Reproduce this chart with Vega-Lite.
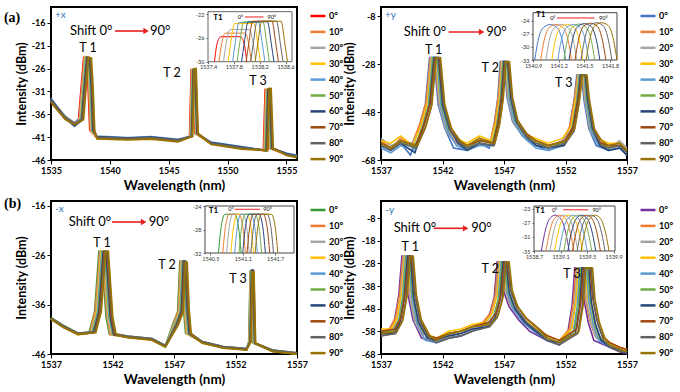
{
"$schema":"https://vega.github.io/schema/vega-lite/v6.json",
"padding":{"left":2,"top":6,"right":2,"bottom":0},
"bounds":"flush",
"columns":2,
"spacing":{"row":41,"column":84},
"resolve":{"scale":{"color":"independent","x":"independent","y":"independent"},"legend":{"color":"independent"}},
"config":{
 "view":{"stroke":"#000","strokeWidth":2},
 "font":"Lato",
 "axis":{"labelFont":"Lato","labelFontSize":9,"labelFontWeight":"bold","labelColor":"#000","titleFont":"Lato","titleFontSize":12.5,"titleFontWeight":"bold","titleColor":"#000","tickColor":"#000","tickSize":4,"domain":false,"grid":false,"labelFlush":false,"labelOverlap":false,"labelPadding":2,"titlePadding":3},
 "axisX":{"titleFontSize":13.5},
 "legend":{"padding":0,"symbolType":"stroke","symbolSize":225,"symbolStrokeWidth":2.5,"labelFont":"Lato","labelFontSize":9,"labelFontWeight":"bold","labelColor":"#000","rowPadding":1.9,"labelOffset":2},
 "text":{"font":"Lato","color":"#000"}
},
"datasets":{
"a":[
{"s":"0°","x":1535,"y":-32.8},{"s":"0°","x":1536.2,"y":-36.6},{"s":"0°","x":1537,"y":-38},{"s":"0°","x":1537.35,"y":-37},{"s":"0°","x":1537.62,"y":-28.5},{"s":"0°","x":1537.78,"y":-23.6},{"s":"0°","x":1538.02,"y":-23.8},{"s":"0°","x":1538.16,"y":-30},{"s":"0°","x":1538.3,"y":-39.5},{"s":"0°","x":1538.9,"y":-41},{"s":"0°","x":1541.5,"y":-41.3},{"s":"0°","x":1543.5,"y":-41.1},{"s":"0°","x":1545.8,"y":-41.7},{"s":"0°","x":1546.78,"y":-40.8},{"s":"0°","x":1546.92,"y":-26.2},{"s":"0°","x":1547.08,"y":-26.2},{"s":"0°","x":1547.25,"y":-40.2},{"s":"0°","x":1548.6,"y":-42.3},{"s":"0°","x":1551.2,"y":-43.3},{"s":"0°","x":1553.05,"y":-43.9},{"s":"0°","x":1553.2,"y":-30.6},{"s":"0°","x":1553.34,"y":-30.6},{"s":"0°","x":1553.52,"y":-43.4},{"s":"0°","x":1555,"y":-44.7},{"s":"0°","x":1555.9,"y":-45.2},
{"s":"10°","x":1535,"y":-33.1},{"s":"10°","x":1536.2,"y":-36.9},{"s":"10°","x":1537,"y":-38.3},{"s":"10°","x":1537.4,"y":-37},{"s":"10°","x":1537.67,"y":-28.5},{"s":"10°","x":1537.83,"y":-23.5},{"s":"10°","x":1538.07,"y":-23.7},{"s":"10°","x":1538.21,"y":-30},{"s":"10°","x":1538.35,"y":-39.5},{"s":"10°","x":1538.9,"y":-41.2},{"s":"10°","x":1541.5,"y":-41.4},{"s":"10°","x":1543.5,"y":-41.2},{"s":"10°","x":1545.8,"y":-41.8},{"s":"10°","x":1546.81,"y":-40.8},{"s":"10°","x":1546.95,"y":-26.3},{"s":"10°","x":1547.11,"y":-26.3},{"s":"10°","x":1547.28,"y":-40.2},{"s":"10°","x":1548.6,"y":-42.4},{"s":"10°","x":1551.2,"y":-43.4},{"s":"10°","x":1553.09,"y":-43.9},{"s":"10°","x":1553.24,"y":-30.7},{"s":"10°","x":1553.38,"y":-30.7},{"s":"10°","x":1553.56,"y":-43.4},{"s":"10°","x":1555,"y":-44.8},{"s":"10°","x":1555.9,"y":-45.2},
{"s":"20°","x":1535,"y":-32.6},{"s":"20°","x":1536.2,"y":-36.4},{"s":"20°","x":1537,"y":-37.8},{"s":"20°","x":1537.44,"y":-36.8},{"s":"20°","x":1537.71,"y":-28.5},{"s":"20°","x":1537.87,"y":-23.6},{"s":"20°","x":1538.11,"y":-23.8},{"s":"20°","x":1538.25,"y":-30},{"s":"20°","x":1538.39,"y":-39.5},{"s":"20°","x":1538.9,"y":-40.9},{"s":"20°","x":1541.5,"y":-41.2},{"s":"20°","x":1543.5,"y":-41},{"s":"20°","x":1545.8,"y":-41.6},{"s":"20°","x":1546.84,"y":-40.8},{"s":"20°","x":1546.98,"y":-26.4},{"s":"20°","x":1547.14,"y":-26.4},{"s":"20°","x":1547.31,"y":-40.2},{"s":"20°","x":1548.6,"y":-42.2},{"s":"20°","x":1551.2,"y":-43.2},{"s":"20°","x":1553.13,"y":-43.9},{"s":"20°","x":1553.28,"y":-30.8},{"s":"20°","x":1553.42,"y":-30.8},{"s":"20°","x":1553.6,"y":-43.4},{"s":"20°","x":1555,"y":-44.6},{"s":"20°","x":1555.9,"y":-45.1},
{"s":"30°","x":1535,"y":-33.2},{"s":"30°","x":1536.2,"y":-36.8},{"s":"30°","x":1537,"y":-38.4},{"s":"30°","x":1537.49,"y":-37.2},{"s":"30°","x":1537.76,"y":-28.5},{"s":"30°","x":1537.92,"y":-23.4},{"s":"30°","x":1538.16,"y":-23.6},{"s":"30°","x":1538.3,"y":-30},{"s":"30°","x":1538.44,"y":-39.5},{"s":"30°","x":1538.9,"y":-41.1},{"s":"30°","x":1541.5,"y":-41.4},{"s":"30°","x":1543.5,"y":-41.2},{"s":"30°","x":1545.8,"y":-41.8},{"s":"30°","x":1546.86,"y":-40.8},{"s":"30°","x":1547,"y":-26.2},{"s":"30°","x":1547.16,"y":-26.2},{"s":"30°","x":1547.33,"y":-40.2},{"s":"30°","x":1548.6,"y":-42.4},{"s":"30°","x":1551.2,"y":-43.4},{"s":"30°","x":1553.17,"y":-43.9},{"s":"30°","x":1553.32,"y":-30.5},{"s":"30°","x":1553.46,"y":-30.5},{"s":"30°","x":1553.64,"y":-43.4},{"s":"30°","x":1555,"y":-44.8},{"s":"30°","x":1555.9,"y":-45.3},
{"s":"40°","x":1535,"y":-32.5},{"s":"40°","x":1536.2,"y":-36.9},{"s":"40°","x":1537,"y":-38.6},{"s":"40°","x":1537.53,"y":-37.4},{"s":"40°","x":1537.8,"y":-28.5},{"s":"40°","x":1537.96,"y":-23.6},{"s":"40°","x":1538.2,"y":-23.8},{"s":"40°","x":1538.34,"y":-30},{"s":"40°","x":1538.48,"y":-39.5},{"s":"40°","x":1538.9,"y":-40.8},{"s":"40°","x":1541.5,"y":-41.1},{"s":"40°","x":1543.5,"y":-40.9},{"s":"40°","x":1545.8,"y":-41.5},{"s":"40°","x":1546.89,"y":-40.8},{"s":"40°","x":1547.03,"y":-26.3},{"s":"40°","x":1547.19,"y":-26.3},{"s":"40°","x":1547.36,"y":-40.2},{"s":"40°","x":1548.6,"y":-42.1},{"s":"40°","x":1551.2,"y":-43.1},{"s":"40°","x":1553.21,"y":-43.9},{"s":"40°","x":1553.36,"y":-30.9},{"s":"40°","x":1553.5,"y":-30.9},{"s":"40°","x":1553.68,"y":-43.4},{"s":"40°","x":1555,"y":-44.5},{"s":"40°","x":1555.9,"y":-45},
{"s":"50°","x":1535,"y":-33},{"s":"50°","x":1536.2,"y":-36.5},{"s":"50°","x":1537,"y":-38.1},{"s":"50°","x":1537.58,"y":-37.1},{"s":"50°","x":1537.85,"y":-28.5},{"s":"50°","x":1538.01,"y":-23.5},{"s":"50°","x":1538.25,"y":-23.7},{"s":"50°","x":1538.39,"y":-30},{"s":"50°","x":1538.53,"y":-39.5},{"s":"50°","x":1538.9,"y":-41},{"s":"50°","x":1541.5,"y":-41.3},{"s":"50°","x":1543.5,"y":-41.1},{"s":"50°","x":1545.8,"y":-41.7},{"s":"50°","x":1546.92,"y":-40.8},{"s":"50°","x":1547.06,"y":-26.2},{"s":"50°","x":1547.22,"y":-26.2},{"s":"50°","x":1547.39,"y":-40.2},{"s":"50°","x":1548.6,"y":-42.3},{"s":"50°","x":1551.2,"y":-43.3},{"s":"50°","x":1553.25,"y":-43.9},{"s":"50°","x":1553.4,"y":-30.6},{"s":"50°","x":1553.54,"y":-30.6},{"s":"50°","x":1553.72,"y":-43.4},{"s":"50°","x":1555,"y":-44.7},{"s":"50°","x":1555.9,"y":-45.2},
{"s":"60°","x":1535,"y":-32.7},{"s":"60°","x":1536.2,"y":-36.7},{"s":"60°","x":1537,"y":-38.5},{"s":"60°","x":1537.62,"y":-37.3},{"s":"60°","x":1537.89,"y":-28.5},{"s":"60°","x":1538.05,"y":-23.6},{"s":"60°","x":1538.29,"y":-23.8},{"s":"60°","x":1538.43,"y":-30},{"s":"60°","x":1538.57,"y":-39.5},{"s":"60°","x":1538.9,"y":-40.9},{"s":"60°","x":1541.5,"y":-41.2},{"s":"60°","x":1543.5,"y":-41},{"s":"60°","x":1545.8,"y":-41.6},{"s":"60°","x":1546.95,"y":-40.8},{"s":"60°","x":1547.09,"y":-26.3},{"s":"60°","x":1547.25,"y":-26.3},{"s":"60°","x":1547.42,"y":-40.2},{"s":"60°","x":1548.6,"y":-42.2},{"s":"60°","x":1551.2,"y":-43.2},{"s":"60°","x":1553.29,"y":-43.9},{"s":"60°","x":1553.44,"y":-30.6},{"s":"60°","x":1553.58,"y":-30.6},{"s":"60°","x":1553.76,"y":-43.4},{"s":"60°","x":1555,"y":-44.6},{"s":"60°","x":1555.9,"y":-45.1},
{"s":"70°","x":1535,"y":-33.3},{"s":"70°","x":1536.2,"y":-37},{"s":"70°","x":1537,"y":-38.2},{"s":"70°","x":1537.67,"y":-37},{"s":"70°","x":1537.94,"y":-28.5},{"s":"70°","x":1538.1,"y":-23.5},{"s":"70°","x":1538.34,"y":-23.7},{"s":"70°","x":1538.48,"y":-30},{"s":"70°","x":1538.62,"y":-39.5},{"s":"70°","x":1538.9,"y":-41.1},{"s":"70°","x":1541.5,"y":-41.4},{"s":"70°","x":1543.5,"y":-41.2},{"s":"70°","x":1545.8,"y":-41.8},{"s":"70°","x":1546.98,"y":-40.8},{"s":"70°","x":1547.12,"y":-26.2},{"s":"70°","x":1547.28,"y":-26.2},{"s":"70°","x":1547.45,"y":-40.2},{"s":"70°","x":1548.6,"y":-42.4},{"s":"70°","x":1551.2,"y":-43.4},{"s":"70°","x":1553.33,"y":-43.9},{"s":"70°","x":1553.48,"y":-30.4},{"s":"70°","x":1553.62,"y":-30.4},{"s":"70°","x":1553.8,"y":-43.4},{"s":"70°","x":1555,"y":-44.8},{"s":"70°","x":1555.9,"y":-45.3},
{"s":"80°","x":1535,"y":-32.9},{"s":"80°","x":1536.2,"y":-36.6},{"s":"80°","x":1537,"y":-38},{"s":"80°","x":1537.71,"y":-36.9},{"s":"80°","x":1537.98,"y":-28.5},{"s":"80°","x":1538.14,"y":-23.6},{"s":"80°","x":1538.38,"y":-23.8},{"s":"80°","x":1538.52,"y":-30},{"s":"80°","x":1538.66,"y":-39.5},{"s":"80°","x":1538.9,"y":-41},{"s":"80°","x":1541.5,"y":-41.3},{"s":"80°","x":1543.5,"y":-41.1},{"s":"80°","x":1545.8,"y":-41.7},{"s":"80°","x":1547,"y":-40.8},{"s":"80°","x":1547.14,"y":-26.1},{"s":"80°","x":1547.3,"y":-26.1},{"s":"80°","x":1547.47,"y":-40.2},{"s":"80°","x":1548.6,"y":-42.3},{"s":"80°","x":1551.2,"y":-43.3},{"s":"80°","x":1553.37,"y":-43.9},{"s":"80°","x":1553.52,"y":-30.5},{"s":"80°","x":1553.66,"y":-30.5},{"s":"80°","x":1553.84,"y":-43.4},{"s":"80°","x":1555,"y":-44.7},{"s":"80°","x":1555.9,"y":-45.2},
{"s":"90°","x":1535,"y":-33.4},{"s":"90°","x":1536.2,"y":-37.1},{"s":"90°","x":1537,"y":-38.3},{"s":"90°","x":1537.76,"y":-37.2},{"s":"90°","x":1538.03,"y":-28.5},{"s":"90°","x":1538.19,"y":-23.5},{"s":"90°","x":1538.43,"y":-23.7},{"s":"90°","x":1538.57,"y":-30},{"s":"90°","x":1538.71,"y":-39.5},{"s":"90°","x":1538.9,"y":-41.4},{"s":"90°","x":1541.5,"y":-41.6},{"s":"90°","x":1543.5,"y":-41.4},{"s":"90°","x":1545.8,"y":-42},{"s":"90°","x":1547.03,"y":-40.8},{"s":"90°","x":1547.17,"y":-26},{"s":"90°","x":1547.33,"y":-26},{"s":"90°","x":1547.5,"y":-40.2},{"s":"90°","x":1548.6,"y":-42.6},{"s":"90°","x":1551.2,"y":-43.6},{"s":"90°","x":1553.41,"y":-43.9},{"s":"90°","x":1553.56,"y":-30.4},{"s":"90°","x":1553.7,"y":-30.4},{"s":"90°","x":1553.88,"y":-43.4},{"s":"90°","x":1555,"y":-45},{"s":"90°","x":1555.9,"y":-45.5}
],
"ai":[
{"s":"0°","x":1537.5,"y":-30},{"s":"0°","x":1537.54,"y":-27},{"s":"0°","x":1537.6,"y":-25.8},{"s":"0°","x":1537.9,"y":-25.8},{"s":"0°","x":1537.96,"y":-27},{"s":"0°","x":1538,"y":-30},
{"s":"10°","x":1537.57,"y":-30},{"s":"10°","x":1537.61,"y":-27},{"s":"10°","x":1537.67,"y":-25.2},{"s":"10°","x":1537.97,"y":-25.2},{"s":"10°","x":1538.03,"y":-27},{"s":"10°","x":1538.07,"y":-30},
{"s":"20°","x":1537.64,"y":-30},{"s":"20°","x":1537.68,"y":-27},{"s":"20°","x":1537.74,"y":-24.6},{"s":"20°","x":1538.04,"y":-24.6},{"s":"20°","x":1538.1,"y":-27},{"s":"20°","x":1538.14,"y":-30},
{"s":"30°","x":1537.71,"y":-30},{"s":"30°","x":1537.75,"y":-27},{"s":"30°","x":1537.81,"y":-23.6},{"s":"30°","x":1538.11,"y":-23.6},{"s":"30°","x":1538.17,"y":-27},{"s":"30°","x":1538.21,"y":-30},
{"s":"40°","x":1537.78,"y":-30},{"s":"40°","x":1537.82,"y":-27},{"s":"40°","x":1537.88,"y":-23.4},{"s":"40°","x":1538.18,"y":-23.4},{"s":"40°","x":1538.24,"y":-27},{"s":"40°","x":1538.28,"y":-30},
{"s":"50°","x":1537.85,"y":-30},{"s":"50°","x":1537.89,"y":-27},{"s":"50°","x":1537.95,"y":-23.3},{"s":"50°","x":1538.25,"y":-23.3},{"s":"50°","x":1538.31,"y":-27},{"s":"50°","x":1538.35,"y":-30},
{"s":"60°","x":1537.92,"y":-30},{"s":"60°","x":1537.96,"y":-27},{"s":"60°","x":1538.02,"y":-23.3},{"s":"60°","x":1538.32,"y":-23.3},{"s":"60°","x":1538.38,"y":-27},{"s":"60°","x":1538.42,"y":-30},
{"s":"70°","x":1537.99,"y":-30},{"s":"70°","x":1538.03,"y":-27},{"s":"70°","x":1538.09,"y":-23.2},{"s":"70°","x":1538.39,"y":-23.2},{"s":"70°","x":1538.45,"y":-27},{"s":"70°","x":1538.49,"y":-30},
{"s":"80°","x":1538.06,"y":-30},{"s":"80°","x":1538.1,"y":-27},{"s":"80°","x":1538.16,"y":-23.2},{"s":"80°","x":1538.46,"y":-23.2},{"s":"80°","x":1538.52,"y":-27},{"s":"80°","x":1538.56,"y":-30},
{"s":"90°","x":1538.13,"y":-30},{"s":"90°","x":1538.17,"y":-27},{"s":"90°","x":1538.23,"y":-23.2},{"s":"90°","x":1538.53,"y":-23.2},{"s":"90°","x":1538.59,"y":-27},{"s":"90°","x":1538.63,"y":-30}
],
"b":[
{"s":"0°","x":1537,"y":-62},{"s":"0°","x":1537.8,"y":-64},{"s":"0°","x":1538.6,"y":-61},{"s":"0°","x":1539.4,"y":-66},{"s":"0°","x":1540.1,"y":-54},{"s":"0°","x":1540.6,"y":-45},{"s":"0°","x":1540.95,"y":-25.3},{"s":"0°","x":1541.3,"y":-25.3},{"s":"0°","x":1541.65,"y":-45},{"s":"0°","x":1542.2,"y":-55},{"s":"0°","x":1542.9,"y":-63},{"s":"0°","x":1544,"y":-64},{"s":"0°","x":1545,"y":-61},{"s":"0°","x":1545.8,"y":-63},{"s":"0°","x":1546.2,"y":-53},{"s":"0°","x":1546.5,"y":-42},{"s":"0°","x":1546.7,"y":-27},{"s":"0°","x":1547,"y":-27},{"s":"0°","x":1547.25,"y":-42},{"s":"0°","x":1547.7,"y":-52},{"s":"0°","x":1548.5,"y":-58},{"s":"0°","x":1549.6,"y":-62},{"s":"0°","x":1550.6,"y":-64},{"s":"0°","x":1551.6,"y":-62},{"s":"0°","x":1552.3,"y":-55},{"s":"0°","x":1552.7,"y":-43},{"s":"0°","x":1552.92,"y":-32.6},{"s":"0°","x":1553.3,"y":-32.6},{"s":"0°","x":1553.5,"y":-43},{"s":"0°","x":1553.9,"y":-55},{"s":"0°","x":1554.5,"y":-62},{"s":"0°","x":1555.5,"y":-64},{"s":"0°","x":1556.4,"y":-63},{"s":"0°","x":1557,"y":-66},
{"s":"10°","x":1537,"y":-60},{"s":"10°","x":1537.8,"y":-63},{"s":"10°","x":1538.6,"y":-59},{"s":"10°","x":1539.46,"y":-62},{"s":"10°","x":1540.16,"y":-53},{"s":"10°","x":1540.66,"y":-44},{"s":"10°","x":1541.01,"y":-25.4},{"s":"10°","x":1541.36,"y":-25.4},{"s":"10°","x":1541.71,"y":-44},{"s":"10°","x":1542.26,"y":-54},{"s":"10°","x":1542.96,"y":-60},{"s":"10°","x":1544,"y":-62},{"s":"10°","x":1545,"y":-59},{"s":"10°","x":1545.85,"y":-61},{"s":"10°","x":1546.25,"y":-52},{"s":"10°","x":1546.55,"y":-41},{"s":"10°","x":1546.75,"y":-27.1},{"s":"10°","x":1547.05,"y":-27.1},{"s":"10°","x":1547.3,"y":-41},{"s":"10°","x":1547.75,"y":-51},{"s":"10°","x":1548.55,"y":-57},{"s":"10°","x":1549.6,"y":-60},{"s":"10°","x":1550.6,"y":-62},{"s":"10°","x":1551.65,"y":-61},{"s":"10°","x":1552.35,"y":-54},{"s":"10°","x":1552.75,"y":-42},{"s":"10°","x":1552.97,"y":-32.7},{"s":"10°","x":1553.35,"y":-32.7},{"s":"10°","x":1553.55,"y":-42},{"s":"10°","x":1553.95,"y":-54},{"s":"10°","x":1554.55,"y":-60},{"s":"10°","x":1555.5,"y":-62},{"s":"10°","x":1556.4,"y":-61},{"s":"10°","x":1557,"y":-64},
{"s":"20°","x":1537,"y":-59},{"s":"20°","x":1537.8,"y":-62},{"s":"20°","x":1538.6,"y":-60},{"s":"20°","x":1539.52,"y":-61},{"s":"20°","x":1540.22,"y":-55},{"s":"20°","x":1540.72,"y":-46},{"s":"20°","x":1541.07,"y":-25.3},{"s":"20°","x":1541.42,"y":-25.3},{"s":"20°","x":1541.77,"y":-46},{"s":"20°","x":1542.32,"y":-56},{"s":"20°","x":1543.02,"y":-61},{"s":"20°","x":1544,"y":-63},{"s":"20°","x":1545,"y":-60},{"s":"20°","x":1545.9,"y":-60},{"s":"20°","x":1546.3,"y":-54},{"s":"20°","x":1546.6,"y":-43},{"s":"20°","x":1546.8,"y":-27},{"s":"20°","x":1547.1,"y":-27},{"s":"20°","x":1547.35,"y":-43},{"s":"20°","x":1547.8,"y":-53},{"s":"20°","x":1548.6,"y":-58},{"s":"20°","x":1549.6,"y":-61},{"s":"20°","x":1550.6,"y":-63},{"s":"20°","x":1551.7,"y":-60},{"s":"20°","x":1552.4,"y":-56},{"s":"20°","x":1552.8,"y":-44},{"s":"20°","x":1553.02,"y":-32.6},{"s":"20°","x":1553.4,"y":-32.6},{"s":"20°","x":1553.6,"y":-44},{"s":"20°","x":1554,"y":-56},{"s":"20°","x":1554.6,"y":-61},{"s":"20°","x":1555.5,"y":-63},{"s":"20°","x":1556.4,"y":-60},{"s":"20°","x":1557,"y":-63},
{"s":"30°","x":1537,"y":-60},{"s":"30°","x":1537.8,"y":-61},{"s":"30°","x":1538.6,"y":-58},{"s":"30°","x":1539.58,"y":-62},{"s":"30°","x":1540.28,"y":-53},{"s":"30°","x":1540.78,"y":-44},{"s":"30°","x":1541.13,"y":-25.4},{"s":"30°","x":1541.48,"y":-25.4},{"s":"30°","x":1541.83,"y":-44},{"s":"30°","x":1542.38,"y":-54},{"s":"30°","x":1543.08,"y":-59},{"s":"30°","x":1544,"y":-61},{"s":"30°","x":1545,"y":-58},{"s":"30°","x":1545.95,"y":-60},{"s":"30°","x":1546.35,"y":-52},{"s":"30°","x":1546.65,"y":-41},{"s":"30°","x":1546.85,"y":-27.1},{"s":"30°","x":1547.15,"y":-27.1},{"s":"30°","x":1547.4,"y":-41},{"s":"30°","x":1547.85,"y":-51},{"s":"30°","x":1548.65,"y":-57},{"s":"30°","x":1549.6,"y":-59},{"s":"30°","x":1550.6,"y":-61},{"s":"30°","x":1551.75,"y":-59},{"s":"30°","x":1552.45,"y":-54},{"s":"30°","x":1552.85,"y":-42},{"s":"30°","x":1553.07,"y":-32.7},{"s":"30°","x":1553.45,"y":-32.7},{"s":"30°","x":1553.65,"y":-42},{"s":"30°","x":1554.05,"y":-54},{"s":"30°","x":1554.65,"y":-59},{"s":"30°","x":1555.5,"y":-61},{"s":"30°","x":1556.4,"y":-61},{"s":"30°","x":1557,"y":-64},
{"s":"40°","x":1537,"y":-63},{"s":"40°","x":1537.8,"y":-65},{"s":"40°","x":1538.6,"y":-62},{"s":"40°","x":1539.64,"y":-64},{"s":"40°","x":1540.34,"y":-55},{"s":"40°","x":1540.84,"y":-46},{"s":"40°","x":1541.19,"y":-25.3},{"s":"40°","x":1541.54,"y":-25.3},{"s":"40°","x":1541.89,"y":-46},{"s":"40°","x":1542.44,"y":-56},{"s":"40°","x":1543.14,"y":-62},{"s":"40°","x":1544,"y":-64},{"s":"40°","x":1545,"y":-62},{"s":"40°","x":1546,"y":-62},{"s":"40°","x":1546.4,"y":-54},{"s":"40°","x":1546.7,"y":-43},{"s":"40°","x":1546.9,"y":-27},{"s":"40°","x":1547.2,"y":-27},{"s":"40°","x":1547.45,"y":-43},{"s":"40°","x":1547.9,"y":-53},{"s":"40°","x":1548.7,"y":-59},{"s":"40°","x":1549.6,"y":-63},{"s":"40°","x":1550.6,"y":-64},{"s":"40°","x":1551.8,"y":-62},{"s":"40°","x":1552.5,"y":-56},{"s":"40°","x":1552.9,"y":-44},{"s":"40°","x":1553.12,"y":-32.6},{"s":"40°","x":1553.5,"y":-32.6},{"s":"40°","x":1553.7,"y":-44},{"s":"40°","x":1554.1,"y":-56},{"s":"40°","x":1554.7,"y":-62},{"s":"40°","x":1555.5,"y":-64},{"s":"40°","x":1556.4,"y":-63},{"s":"40°","x":1557,"y":-66},
{"s":"50°","x":1537,"y":-61},{"s":"50°","x":1537.8,"y":-63},{"s":"50°","x":1538.6,"y":-60},{"s":"50°","x":1539.7,"y":-63},{"s":"50°","x":1540.4,"y":-54},{"s":"50°","x":1540.9,"y":-45},{"s":"50°","x":1541.25,"y":-25.4},{"s":"50°","x":1541.6,"y":-25.4},{"s":"50°","x":1541.95,"y":-45},{"s":"50°","x":1542.5,"y":-55},{"s":"50°","x":1543.2,"y":-60},{"s":"50°","x":1544,"y":-63},{"s":"50°","x":1545,"y":-60},{"s":"50°","x":1546.05,"y":-61},{"s":"50°","x":1546.45,"y":-53},{"s":"50°","x":1546.75,"y":-42},{"s":"50°","x":1546.95,"y":-27.1},{"s":"50°","x":1547.25,"y":-27.1},{"s":"50°","x":1547.5,"y":-42},{"s":"50°","x":1547.95,"y":-52},{"s":"50°","x":1548.75,"y":-58},{"s":"50°","x":1549.6,"y":-61},{"s":"50°","x":1550.6,"y":-62},{"s":"50°","x":1551.85,"y":-61},{"s":"50°","x":1552.55,"y":-55},{"s":"50°","x":1552.95,"y":-43},{"s":"50°","x":1553.17,"y":-32.7},{"s":"50°","x":1553.55,"y":-32.7},{"s":"50°","x":1553.75,"y":-43},{"s":"50°","x":1554.15,"y":-55},{"s":"50°","x":1554.75,"y":-61},{"s":"50°","x":1555.5,"y":-63},{"s":"50°","x":1556.4,"y":-62},{"s":"50°","x":1557,"y":-65},
{"s":"60°","x":1537,"y":-62},{"s":"60°","x":1537.8,"y":-64},{"s":"60°","x":1538.6,"y":-61},{"s":"60°","x":1539.76,"y":-65},{"s":"60°","x":1540.46,"y":-54},{"s":"60°","x":1540.96,"y":-45},{"s":"60°","x":1541.31,"y":-25.3},{"s":"60°","x":1541.66,"y":-25.3},{"s":"60°","x":1542.01,"y":-45},{"s":"60°","x":1542.56,"y":-55},{"s":"60°","x":1543.26,"y":-61},{"s":"60°","x":1544,"y":-64},{"s":"60°","x":1545,"y":-61},{"s":"60°","x":1546.1,"y":-62},{"s":"60°","x":1546.5,"y":-53},{"s":"60°","x":1546.8,"y":-42},{"s":"60°","x":1547,"y":-27},{"s":"60°","x":1547.3,"y":-27},{"s":"60°","x":1547.55,"y":-42},{"s":"60°","x":1548,"y":-52},{"s":"60°","x":1548.8,"y":-58},{"s":"60°","x":1549.6,"y":-62},{"s":"60°","x":1550.6,"y":-63},{"s":"60°","x":1551.9,"y":-62},{"s":"60°","x":1552.6,"y":-55},{"s":"60°","x":1553,"y":-43},{"s":"60°","x":1553.22,"y":-32.6},{"s":"60°","x":1553.6,"y":-32.6},{"s":"60°","x":1553.8,"y":-43},{"s":"60°","x":1554.2,"y":-55},{"s":"60°","x":1554.8,"y":-62},{"s":"60°","x":1555.5,"y":-64},{"s":"60°","x":1556.4,"y":-63},{"s":"60°","x":1557,"y":-66},
{"s":"70°","x":1537,"y":-61},{"s":"70°","x":1537.8,"y":-63},{"s":"70°","x":1538.6,"y":-60},{"s":"70°","x":1539.82,"y":-62},{"s":"70°","x":1540.52,"y":-53},{"s":"70°","x":1541.02,"y":-44},{"s":"70°","x":1541.37,"y":-25.4},{"s":"70°","x":1541.72,"y":-25.4},{"s":"70°","x":1542.07,"y":-44},{"s":"70°","x":1542.62,"y":-54},{"s":"70°","x":1543.32,"y":-60},{"s":"70°","x":1544,"y":-62},{"s":"70°","x":1545,"y":-60},{"s":"70°","x":1546.15,"y":-61},{"s":"70°","x":1546.55,"y":-52},{"s":"70°","x":1546.85,"y":-41},{"s":"70°","x":1547.05,"y":-27.1},{"s":"70°","x":1547.35,"y":-27.1},{"s":"70°","x":1547.6,"y":-41},{"s":"70°","x":1548.05,"y":-51},{"s":"70°","x":1548.85,"y":-57},{"s":"70°","x":1549.6,"y":-60},{"s":"70°","x":1550.6,"y":-62},{"s":"70°","x":1551.95,"y":-60},{"s":"70°","x":1552.65,"y":-54},{"s":"70°","x":1553.05,"y":-42},{"s":"70°","x":1553.27,"y":-32.7},{"s":"70°","x":1553.65,"y":-32.7},{"s":"70°","x":1553.85,"y":-42},{"s":"70°","x":1554.25,"y":-54},{"s":"70°","x":1554.85,"y":-61},{"s":"70°","x":1555.5,"y":-62},{"s":"70°","x":1556.4,"y":-62},{"s":"70°","x":1557,"y":-64},
{"s":"80°","x":1537,"y":-62},{"s":"80°","x":1537.8,"y":-64},{"s":"80°","x":1538.6,"y":-61},{"s":"80°","x":1539.88,"y":-63},{"s":"80°","x":1540.58,"y":-55},{"s":"80°","x":1541.08,"y":-46},{"s":"80°","x":1541.43,"y":-25.3},{"s":"80°","x":1541.78,"y":-25.3},{"s":"80°","x":1542.13,"y":-46},{"s":"80°","x":1542.68,"y":-56},{"s":"80°","x":1543.38,"y":-61},{"s":"80°","x":1544,"y":-63},{"s":"80°","x":1545,"y":-61},{"s":"80°","x":1546.2,"y":-62},{"s":"80°","x":1546.6,"y":-54},{"s":"80°","x":1546.9,"y":-43},{"s":"80°","x":1547.1,"y":-27},{"s":"80°","x":1547.4,"y":-27},{"s":"80°","x":1547.65,"y":-43},{"s":"80°","x":1548.1,"y":-53},{"s":"80°","x":1548.9,"y":-59},{"s":"80°","x":1549.6,"y":-61},{"s":"80°","x":1550.6,"y":-63},{"s":"80°","x":1552,"y":-61},{"s":"80°","x":1552.7,"y":-56},{"s":"80°","x":1553.1,"y":-44},{"s":"80°","x":1553.32,"y":-32.6},{"s":"80°","x":1553.7,"y":-32.6},{"s":"80°","x":1553.9,"y":-44},{"s":"80°","x":1554.3,"y":-56},{"s":"80°","x":1554.9,"y":-62},{"s":"80°","x":1555.5,"y":-63},{"s":"80°","x":1556.4,"y":-62},{"s":"80°","x":1557,"y":-65},
{"s":"90°","x":1537,"y":-61},{"s":"90°","x":1537.8,"y":-63},{"s":"90°","x":1538.6,"y":-60},{"s":"90°","x":1539.94,"y":-62},{"s":"90°","x":1540.64,"y":-54},{"s":"90°","x":1541.14,"y":-45},{"s":"90°","x":1541.49,"y":-25.4},{"s":"90°","x":1541.84,"y":-25.4},{"s":"90°","x":1542.19,"y":-45},{"s":"90°","x":1542.74,"y":-55},{"s":"90°","x":1543.44,"y":-60},{"s":"90°","x":1544,"y":-62},{"s":"90°","x":1545,"y":-59},{"s":"90°","x":1546.25,"y":-61},{"s":"90°","x":1546.65,"y":-53},{"s":"90°","x":1546.95,"y":-42},{"s":"90°","x":1547.15,"y":-27.1},{"s":"90°","x":1547.45,"y":-27.1},{"s":"90°","x":1547.7,"y":-42},{"s":"90°","x":1548.15,"y":-52},{"s":"90°","x":1548.95,"y":-58},{"s":"90°","x":1549.6,"y":-60},{"s":"90°","x":1550.6,"y":-62},{"s":"90°","x":1552.05,"y":-60},{"s":"90°","x":1552.75,"y":-55},{"s":"90°","x":1553.15,"y":-43},{"s":"90°","x":1553.37,"y":-32.7},{"s":"90°","x":1553.75,"y":-32.7},{"s":"90°","x":1553.95,"y":-43},{"s":"90°","x":1554.35,"y":-55},{"s":"90°","x":1554.95,"y":-60},{"s":"90°","x":1555.5,"y":-62},{"s":"90°","x":1556.4,"y":-61},{"s":"90°","x":1557,"y":-64}
],
"bi":[
{"s":"0°","x":1540.92,"y":-33},{"s":"0°","x":1540.96,"y":-28.5},{"s":"0°","x":1541.02,"y":-25.6},{"s":"0°","x":1541.1,"y":-24.9},{"s":"0°","x":1541.18,"y":-25.6},{"s":"0°","x":1541.24,"y":-28.5},{"s":"0°","x":1541.28,"y":-33},
{"s":"10°","x":1540.99,"y":-33},{"s":"10°","x":1541.03,"y":-28.5},{"s":"10°","x":1541.09,"y":-25.6},{"s":"10°","x":1541.17,"y":-24.9},{"s":"10°","x":1541.25,"y":-25.6},{"s":"10°","x":1541.31,"y":-28.5},{"s":"10°","x":1541.35,"y":-33},
{"s":"20°","x":1541.05,"y":-33},{"s":"20°","x":1541.09,"y":-28.5},{"s":"20°","x":1541.15,"y":-25.6},{"s":"20°","x":1541.23,"y":-24.9},{"s":"20°","x":1541.31,"y":-25.6},{"s":"20°","x":1541.37,"y":-28.5},{"s":"20°","x":1541.41,"y":-33},
{"s":"30°","x":1541.12,"y":-33},{"s":"30°","x":1541.16,"y":-28.5},{"s":"30°","x":1541.22,"y":-25.6},{"s":"30°","x":1541.3,"y":-24.9},{"s":"30°","x":1541.38,"y":-25.6},{"s":"30°","x":1541.44,"y":-28.5},{"s":"30°","x":1541.48,"y":-33},
{"s":"40°","x":1541.19,"y":-33},{"s":"40°","x":1541.23,"y":-28.5},{"s":"40°","x":1541.29,"y":-25.6},{"s":"40°","x":1541.37,"y":-24.9},{"s":"40°","x":1541.45,"y":-25.6},{"s":"40°","x":1541.51,"y":-28.5},{"s":"40°","x":1541.55,"y":-33},
{"s":"50°","x":1541.26,"y":-33},{"s":"50°","x":1541.3,"y":-28.5},{"s":"50°","x":1541.36,"y":-25.5},{"s":"50°","x":1541.44,"y":-24.8},{"s":"50°","x":1541.52,"y":-25.5},{"s":"50°","x":1541.58,"y":-28.5},{"s":"50°","x":1541.62,"y":-33},
{"s":"60°","x":1541.32,"y":-33},{"s":"60°","x":1541.36,"y":-28.5},{"s":"60°","x":1541.42,"y":-25.4},{"s":"60°","x":1541.5,"y":-24.7},{"s":"60°","x":1541.58,"y":-25.4},{"s":"60°","x":1541.64,"y":-28.5},{"s":"60°","x":1541.68,"y":-33},
{"s":"70°","x":1541.39,"y":-33},{"s":"70°","x":1541.43,"y":-28.5},{"s":"70°","x":1541.49,"y":-25.3},{"s":"70°","x":1541.57,"y":-24.6},{"s":"70°","x":1541.65,"y":-25.3},{"s":"70°","x":1541.71,"y":-28.5},{"s":"70°","x":1541.75,"y":-33},
{"s":"80°","x":1541.46,"y":-33},{"s":"80°","x":1541.5,"y":-28.5},{"s":"80°","x":1541.56,"y":-25.2},{"s":"80°","x":1541.64,"y":-24.5},{"s":"80°","x":1541.72,"y":-25.2},{"s":"80°","x":1541.78,"y":-28.5},{"s":"80°","x":1541.82,"y":-33},
{"s":"90°","x":1541.52,"y":-33},{"s":"90°","x":1541.56,"y":-28.5},{"s":"90°","x":1541.62,"y":-25.2},{"s":"90°","x":1541.7,"y":-24.5},{"s":"90°","x":1541.78,"y":-25.2},{"s":"90°","x":1541.84,"y":-28.5},{"s":"90°","x":1541.88,"y":-33}
],
"c":[
{"s":"0°","x":1537,"y":-38.8},{"s":"0°","x":1538,"y":-40.4},{"s":"0°","x":1539.2,"y":-41.9},{"s":"0°","x":1540.1,"y":-41.6},{"s":"0°","x":1540.55,"y":-37.5},{"s":"0°","x":1540.9,"y":-25.2},{"s":"0°","x":1541.12,"y":-25.2},{"s":"0°","x":1541.48,"y":-38.5},{"s":"0°","x":1541.75,"y":-42},{"s":"0°","x":1543.2,"y":-42.5},{"s":"0°","x":1545.2,"y":-43},{"s":"0°","x":1546.3,"y":-44.4},{"s":"0°","x":1546.9,"y":-40},{"s":"0°","x":1547.3,"y":-37.5},{"s":"0°","x":1547.48,"y":-27.3},{"s":"0°","x":1547.62,"y":-27.3},{"s":"0°","x":1547.78,"y":-37},{"s":"0°","x":1547.95,"y":-41.8},{"s":"0°","x":1549.3,"y":-43.6},{"s":"0°","x":1551,"y":-44.6},{"s":"0°","x":1552.9,"y":-45},{"s":"0°","x":1553.08,"y":-43.5},{"s":"0°","x":1553.2,"y":-29.2},{"s":"0°","x":1553.32,"y":-29.2},{"s":"0°","x":1553.45,"y":-43.8},{"s":"0°","x":1555,"y":-45.3},{"s":"0°","x":1557,"y":-45.9},
{"s":"10°","x":1537,"y":-38.9},{"s":"10°","x":1538,"y":-40.5},{"s":"10°","x":1539.2,"y":-42},{"s":"10°","x":1540.16,"y":-41.6},{"s":"10°","x":1540.61,"y":-37.2},{"s":"10°","x":1540.96,"y":-25.3},{"s":"10°","x":1541.18,"y":-25.3},{"s":"10°","x":1541.54,"y":-38.2},{"s":"10°","x":1541.81,"y":-42.1},{"s":"10°","x":1543.2,"y":-42.6},{"s":"10°","x":1545.2,"y":-43.1},{"s":"10°","x":1546.3,"y":-44.5},{"s":"10°","x":1546.95,"y":-40},{"s":"10°","x":1547.35,"y":-37.3},{"s":"10°","x":1547.53,"y":-27.2},{"s":"10°","x":1547.67,"y":-27.2},{"s":"10°","x":1547.83,"y":-37},{"s":"10°","x":1548,"y":-41.8},{"s":"10°","x":1549.3,"y":-43.7},{"s":"10°","x":1551,"y":-44.7},{"s":"10°","x":1552.9,"y":-45.1},{"s":"10°","x":1553.1,"y":-43.5},{"s":"10°","x":1553.22,"y":-29.3},{"s":"10°","x":1553.34,"y":-29.3},{"s":"10°","x":1553.47,"y":-43.8},{"s":"10°","x":1555,"y":-45.4},{"s":"10°","x":1557,"y":-45.9},
{"s":"20°","x":1537,"y":-38.7},{"s":"20°","x":1538,"y":-40.3},{"s":"20°","x":1539.2,"y":-41.8},{"s":"20°","x":1540.22,"y":-41.5},{"s":"20°","x":1540.67,"y":-37.8},{"s":"20°","x":1541.02,"y":-25.2},{"s":"20°","x":1541.24,"y":-25.2},{"s":"20°","x":1541.6,"y":-38.6},{"s":"20°","x":1541.87,"y":-42},{"s":"20°","x":1543.2,"y":-42.4},{"s":"20°","x":1545.2,"y":-42.9},{"s":"20°","x":1546.3,"y":-44.3},{"s":"20°","x":1547,"y":-40},{"s":"20°","x":1547.4,"y":-37.6},{"s":"20°","x":1547.58,"y":-27.4},{"s":"20°","x":1547.72,"y":-27.4},{"s":"20°","x":1547.88,"y":-37},{"s":"20°","x":1548.05,"y":-41.8},{"s":"20°","x":1549.3,"y":-43.5},{"s":"20°","x":1551,"y":-44.5},{"s":"20°","x":1552.9,"y":-44.9},{"s":"20°","x":1553.12,"y":-43.5},{"s":"20°","x":1553.24,"y":-29.2},{"s":"20°","x":1553.36,"y":-29.2},{"s":"20°","x":1553.49,"y":-43.8},{"s":"20°","x":1555,"y":-45.2},{"s":"20°","x":1557,"y":-45.8},
{"s":"30°","x":1537,"y":-38.9},{"s":"30°","x":1538,"y":-40.5},{"s":"30°","x":1539.2,"y":-42.1},{"s":"30°","x":1540.28,"y":-41.7},{"s":"30°","x":1540.73,"y":-37.3},{"s":"30°","x":1541.08,"y":-25.2},{"s":"30°","x":1541.3,"y":-25.2},{"s":"30°","x":1541.66,"y":-38.4},{"s":"30°","x":1541.93,"y":-42.1},{"s":"30°","x":1543.2,"y":-42.6},{"s":"30°","x":1545.2,"y":-43.1},{"s":"30°","x":1546.3,"y":-44.5},{"s":"30°","x":1547.05,"y":-40.1},{"s":"30°","x":1547.45,"y":-37.4},{"s":"30°","x":1547.63,"y":-27.3},{"s":"30°","x":1547.77,"y":-27.3},{"s":"30°","x":1547.93,"y":-37},{"s":"30°","x":1548.1,"y":-41.9},{"s":"30°","x":1549.3,"y":-43.7},{"s":"30°","x":1551,"y":-44.7},{"s":"30°","x":1552.9,"y":-45.1},{"s":"30°","x":1553.14,"y":-43.5},{"s":"30°","x":1553.26,"y":-29.2},{"s":"30°","x":1553.38,"y":-29.2},{"s":"30°","x":1553.51,"y":-43.8},{"s":"30°","x":1555,"y":-45.4},{"s":"30°","x":1557,"y":-46},
{"s":"40°","x":1537,"y":-38.8},{"s":"40°","x":1538,"y":-40.4},{"s":"40°","x":1539.2,"y":-41.9},{"s":"40°","x":1540.34,"y":-41.6},{"s":"40°","x":1540.79,"y":-37.5},{"s":"40°","x":1541.14,"y":-25.3},{"s":"40°","x":1541.36,"y":-25.3},{"s":"40°","x":1541.72,"y":-38.5},{"s":"40°","x":1541.99,"y":-42},{"s":"40°","x":1543.2,"y":-42.5},{"s":"40°","x":1545.2,"y":-43},{"s":"40°","x":1546.3,"y":-44.4},{"s":"40°","x":1547.1,"y":-40},{"s":"40°","x":1547.5,"y":-37.5},{"s":"40°","x":1547.68,"y":-27.2},{"s":"40°","x":1547.82,"y":-27.2},{"s":"40°","x":1547.98,"y":-37},{"s":"40°","x":1548.15,"y":-41.8},{"s":"40°","x":1549.3,"y":-43.6},{"s":"40°","x":1551,"y":-44.6},{"s":"40°","x":1552.9,"y":-45},{"s":"40°","x":1553.16,"y":-43.5},{"s":"40°","x":1553.28,"y":-29.1},{"s":"40°","x":1553.4,"y":-29.1},{"s":"40°","x":1553.53,"y":-43.8},{"s":"40°","x":1555,"y":-45.3},{"s":"40°","x":1557,"y":-45.9},
{"s":"50°","x":1537,"y":-38.6},{"s":"50°","x":1538,"y":-40.2},{"s":"50°","x":1539.2,"y":-41.8},{"s":"50°","x":1540.4,"y":-41.5},{"s":"50°","x":1540.85,"y":-37.7},{"s":"50°","x":1541.2,"y":-25.2},{"s":"50°","x":1541.42,"y":-25.2},{"s":"50°","x":1541.78,"y":-38.3},{"s":"50°","x":1542.05,"y":-41.9},{"s":"50°","x":1543.2,"y":-42.4},{"s":"50°","x":1545.2,"y":-42.9},{"s":"50°","x":1546.3,"y":-44.3},{"s":"50°","x":1547.15,"y":-40},{"s":"50°","x":1547.55,"y":-37.6},{"s":"50°","x":1547.73,"y":-27.3},{"s":"50°","x":1547.87,"y":-27.3},{"s":"50°","x":1548.03,"y":-37},{"s":"50°","x":1548.2,"y":-41.8},{"s":"50°","x":1549.3,"y":-43.5},{"s":"50°","x":1551,"y":-44.5},{"s":"50°","x":1552.9,"y":-44.9},{"s":"50°","x":1553.18,"y":-43.5},{"s":"50°","x":1553.3,"y":-29.2},{"s":"50°","x":1553.42,"y":-29.2},{"s":"50°","x":1553.55,"y":-43.8},{"s":"50°","x":1555,"y":-45.2},{"s":"50°","x":1557,"y":-45.8},
{"s":"60°","x":1537,"y":-38.9},{"s":"60°","x":1538,"y":-40.5},{"s":"60°","x":1539.2,"y":-42},{"s":"60°","x":1540.46,"y":-41.7},{"s":"60°","x":1540.91,"y":-37.4},{"s":"60°","x":1541.26,"y":-25.3},{"s":"60°","x":1541.48,"y":-25.3},{"s":"60°","x":1541.84,"y":-38.6},{"s":"60°","x":1542.11,"y":-42.1},{"s":"60°","x":1543.2,"y":-42.6},{"s":"60°","x":1545.2,"y":-43.1},{"s":"60°","x":1546.3,"y":-44.5},{"s":"60°","x":1547.2,"y":-40.1},{"s":"60°","x":1547.6,"y":-37.4},{"s":"60°","x":1547.78,"y":-27.2},{"s":"60°","x":1547.92,"y":-27.2},{"s":"60°","x":1548.08,"y":-37},{"s":"60°","x":1548.25,"y":-41.9},{"s":"60°","x":1549.3,"y":-43.7},{"s":"60°","x":1551,"y":-44.7},{"s":"60°","x":1552.9,"y":-45.1},{"s":"60°","x":1553.2,"y":-43.5},{"s":"60°","x":1553.32,"y":-29},{"s":"60°","x":1553.44,"y":-29},{"s":"60°","x":1553.57,"y":-43.8},{"s":"60°","x":1555,"y":-45.4},{"s":"60°","x":1557,"y":-45.9},
{"s":"70°","x":1537,"y":-38.8},{"s":"70°","x":1538,"y":-40.4},{"s":"70°","x":1539.2,"y":-41.9},{"s":"70°","x":1540.52,"y":-41.6},{"s":"70°","x":1540.97,"y":-37.5},{"s":"70°","x":1541.32,"y":-25.2},{"s":"70°","x":1541.54,"y":-25.2},{"s":"70°","x":1541.9,"y":-38.5},{"s":"70°","x":1542.17,"y":-42},{"s":"70°","x":1543.2,"y":-42.5},{"s":"70°","x":1545.2,"y":-43},{"s":"70°","x":1546.3,"y":-44.4},{"s":"70°","x":1547.25,"y":-40},{"s":"70°","x":1547.65,"y":-37.5},{"s":"70°","x":1547.83,"y":-27.3},{"s":"70°","x":1547.97,"y":-27.3},{"s":"70°","x":1548.13,"y":-37},{"s":"70°","x":1548.3,"y":-41.8},{"s":"70°","x":1549.3,"y":-43.6},{"s":"70°","x":1551,"y":-44.6},{"s":"70°","x":1552.9,"y":-45},{"s":"70°","x":1553.22,"y":-43.5},{"s":"70°","x":1553.34,"y":-29.2},{"s":"70°","x":1553.46,"y":-29.2},{"s":"70°","x":1553.59,"y":-43.8},{"s":"70°","x":1555,"y":-45.3},{"s":"70°","x":1557,"y":-45.9},
{"s":"80°","x":1537,"y":-38.7},{"s":"80°","x":1538,"y":-40.3},{"s":"80°","x":1539.2,"y":-41.8},{"s":"80°","x":1540.58,"y":-41.5},{"s":"80°","x":1541.03,"y":-37.6},{"s":"80°","x":1541.38,"y":-25.2},{"s":"80°","x":1541.6,"y":-25.2},{"s":"80°","x":1541.96,"y":-38.4},{"s":"80°","x":1542.23,"y":-41.9},{"s":"80°","x":1543.2,"y":-42.4},{"s":"80°","x":1545.2,"y":-42.9},{"s":"80°","x":1546.3,"y":-44.3},{"s":"80°","x":1547.3,"y":-40},{"s":"80°","x":1547.7,"y":-37.6},{"s":"80°","x":1547.88,"y":-27.4},{"s":"80°","x":1548.02,"y":-27.4},{"s":"80°","x":1548.18,"y":-37},{"s":"80°","x":1548.35,"y":-41.8},{"s":"80°","x":1549.3,"y":-43.5},{"s":"80°","x":1551,"y":-44.5},{"s":"80°","x":1552.9,"y":-44.9},{"s":"80°","x":1553.24,"y":-43.5},{"s":"80°","x":1553.36,"y":-29.3},{"s":"80°","x":1553.48,"y":-29.3},{"s":"80°","x":1553.61,"y":-43.8},{"s":"80°","x":1555,"y":-45.2},{"s":"80°","x":1557,"y":-45.8},
{"s":"90°","x":1537,"y":-38.9},{"s":"90°","x":1538,"y":-40.6},{"s":"90°","x":1539.2,"y":-42},{"s":"90°","x":1540.64,"y":-41.7},{"s":"90°","x":1541.09,"y":-37.3},{"s":"90°","x":1541.44,"y":-25.2},{"s":"90°","x":1541.66,"y":-25.2},{"s":"90°","x":1542.02,"y":-38.6},{"s":"90°","x":1542.29,"y":-42.1},{"s":"90°","x":1543.2,"y":-42.7},{"s":"90°","x":1545.2,"y":-43.2},{"s":"90°","x":1546.3,"y":-44.6},{"s":"90°","x":1547.35,"y":-40.1},{"s":"90°","x":1547.75,"y":-37.4},{"s":"90°","x":1547.93,"y":-27.5},{"s":"90°","x":1548.07,"y":-27.5},{"s":"90°","x":1548.23,"y":-37},{"s":"90°","x":1548.4,"y":-42},{"s":"90°","x":1549.3,"y":-43.8},{"s":"90°","x":1551,"y":-44.8},{"s":"90°","x":1552.9,"y":-45.2},{"s":"90°","x":1553.26,"y":-43.5},{"s":"90°","x":1553.38,"y":-29.4},{"s":"90°","x":1553.5,"y":-29.4},{"s":"90°","x":1553.63,"y":-43.8},{"s":"90°","x":1555,"y":-45.5},{"s":"90°","x":1557,"y":-46}
],
"ci":[
{"s":"0°","x":1540.65,"y":-32},{"s":"0°","x":1540.7,"y":-27.5},{"s":"0°","x":1540.77,"y":-25.4},{"s":"0°","x":1540.95,"y":-25.4},{"s":"0°","x":1541.02,"y":-27.5},{"s":"0°","x":1541.07,"y":-32},
{"s":"10°","x":1540.73,"y":-32},{"s":"10°","x":1540.78,"y":-27.5},{"s":"10°","x":1540.85,"y":-25.4},{"s":"10°","x":1541.03,"y":-25.4},{"s":"10°","x":1541.1,"y":-27.5},{"s":"10°","x":1541.15,"y":-32},
{"s":"20°","x":1540.8,"y":-32},{"s":"20°","x":1540.85,"y":-27.5},{"s":"20°","x":1540.92,"y":-25.4},{"s":"20°","x":1541.1,"y":-25.4},{"s":"20°","x":1541.17,"y":-27.5},{"s":"20°","x":1541.22,"y":-32},
{"s":"30°","x":1540.88,"y":-32},{"s":"30°","x":1540.93,"y":-27.5},{"s":"30°","x":1541,"y":-25.4},{"s":"30°","x":1541.18,"y":-25.4},{"s":"30°","x":1541.25,"y":-27.5},{"s":"30°","x":1541.3,"y":-32},
{"s":"40°","x":1540.95,"y":-32},{"s":"40°","x":1541,"y":-27.5},{"s":"40°","x":1541.07,"y":-25.4},{"s":"40°","x":1541.25,"y":-25.4},{"s":"40°","x":1541.32,"y":-27.5},{"s":"40°","x":1541.37,"y":-32},
{"s":"50°","x":1541.03,"y":-32},{"s":"50°","x":1541.08,"y":-27.5},{"s":"50°","x":1541.15,"y":-25.4},{"s":"50°","x":1541.33,"y":-25.4},{"s":"50°","x":1541.4,"y":-27.5},{"s":"50°","x":1541.45,"y":-32},
{"s":"60°","x":1541.1,"y":-32},{"s":"60°","x":1541.15,"y":-27.5},{"s":"60°","x":1541.22,"y":-25.4},{"s":"60°","x":1541.4,"y":-25.4},{"s":"60°","x":1541.47,"y":-27.5},{"s":"60°","x":1541.52,"y":-32},
{"s":"70°","x":1541.18,"y":-32},{"s":"70°","x":1541.23,"y":-27.5},{"s":"70°","x":1541.3,"y":-25.4},{"s":"70°","x":1541.48,"y":-25.4},{"s":"70°","x":1541.55,"y":-27.5},{"s":"70°","x":1541.6,"y":-32},
{"s":"80°","x":1541.25,"y":-32},{"s":"80°","x":1541.3,"y":-27.5},{"s":"80°","x":1541.37,"y":-25.4},{"s":"80°","x":1541.55,"y":-25.4},{"s":"80°","x":1541.62,"y":-27.5},{"s":"80°","x":1541.67,"y":-32},
{"s":"90°","x":1541.33,"y":-32},{"s":"90°","x":1541.38,"y":-27.5},{"s":"90°","x":1541.45,"y":-25.4},{"s":"90°","x":1541.63,"y":-25.4},{"s":"90°","x":1541.7,"y":-27.5},{"s":"90°","x":1541.75,"y":-32}
],
"d":[
{"s":"0°","x":1537,"y":-59},{"s":"0°","x":1537.6,"y":-58},{"s":"0°","x":1538.1,"y":-53},{"s":"0°","x":1538.45,"y":-42},{"s":"0°","x":1538.7,"y":-24.8},{"s":"0°","x":1538.95,"y":-24.8},{"s":"0°","x":1539.2,"y":-42},{"s":"0°","x":1539.6,"y":-53},{"s":"0°","x":1540.3,"y":-61},{"s":"0°","x":1541.5,"y":-63},{"s":"0°","x":1542.5,"y":-61},{"s":"0°","x":1543.5,"y":-60},{"s":"0°","x":1544.4,"y":-58},{"s":"0°","x":1545.2,"y":-56},{"s":"0°","x":1545.8,"y":-51},{"s":"0°","x":1546.2,"y":-43},{"s":"0°","x":1546.45,"y":-27.3},{"s":"0°","x":1546.7,"y":-27.3},{"s":"0°","x":1546.95,"y":-40},{"s":"0°","x":1547.4,"y":-47},{"s":"0°","x":1548.2,"y":-53},{"s":"0°","x":1549.1,"y":-58},{"s":"0°","x":1550.5,"y":-62},{"s":"0°","x":1551.5,"y":-64},{"s":"0°","x":1552.2,"y":-58},{"s":"0°","x":1552.55,"y":-46},{"s":"0°","x":1552.75,"y":-30},{"s":"0°","x":1553.3,"y":-30},{"s":"0°","x":1553.5,"y":-44},{"s":"0°","x":1553.85,"y":-54},{"s":"0°","x":1554.3,"y":-62},{"s":"0°","x":1555.6,"y":-65},{"s":"0°","x":1556.4,"y":-67},{"s":"0°","x":1557,"y":-68},
{"s":"10°","x":1537,"y":-58},{"s":"10°","x":1537.68,"y":-57},{"s":"10°","x":1538.18,"y":-52},{"s":"10°","x":1538.53,"y":-41},{"s":"10°","x":1538.78,"y":-24.9},{"s":"10°","x":1539.03,"y":-24.9},{"s":"10°","x":1539.28,"y":-41},{"s":"10°","x":1539.68,"y":-52},{"s":"10°","x":1540.38,"y":-59},{"s":"10°","x":1541.5,"y":-61},{"s":"10°","x":1542.5,"y":-59},{"s":"10°","x":1543.5,"y":-58},{"s":"10°","x":1544.4,"y":-56},{"s":"10°","x":1545.28,"y":-54},{"s":"10°","x":1545.88,"y":-50},{"s":"10°","x":1546.28,"y":-42},{"s":"10°","x":1546.53,"y":-27.4},{"s":"10°","x":1546.78,"y":-27.4},{"s":"10°","x":1547.03,"y":-39},{"s":"10°","x":1547.48,"y":-46},{"s":"10°","x":1548.28,"y":-52},{"s":"10°","x":1549.18,"y":-56},{"s":"10°","x":1550.6,"y":-60},{"s":"10°","x":1551.5,"y":-62},{"s":"10°","x":1552.3,"y":-57},{"s":"10°","x":1552.65,"y":-45},{"s":"10°","x":1552.85,"y":-30.1},{"s":"10°","x":1553.4,"y":-30.1},{"s":"10°","x":1553.6,"y":-43},{"s":"10°","x":1553.95,"y":-53},{"s":"10°","x":1554.4,"y":-60},{"s":"10°","x":1555.6,"y":-63},{"s":"10°","x":1556.4,"y":-65},{"s":"10°","x":1557,"y":-66},
{"s":"20°","x":1537,"y":-60},{"s":"20°","x":1537.75,"y":-59},{"s":"20°","x":1538.25,"y":-54},{"s":"20°","x":1538.6,"y":-43},{"s":"20°","x":1538.85,"y":-24.8},{"s":"20°","x":1539.1,"y":-24.8},{"s":"20°","x":1539.35,"y":-43},{"s":"20°","x":1539.75,"y":-54},{"s":"20°","x":1540.45,"y":-61},{"s":"20°","x":1541.5,"y":-62},{"s":"20°","x":1542.5,"y":-60},{"s":"20°","x":1543.5,"y":-59},{"s":"20°","x":1544.4,"y":-57},{"s":"20°","x":1545.36,"y":-55},{"s":"20°","x":1545.96,"y":-51},{"s":"20°","x":1546.36,"y":-43},{"s":"20°","x":1546.61,"y":-27.3},{"s":"20°","x":1546.86,"y":-27.3},{"s":"20°","x":1547.11,"y":-40},{"s":"20°","x":1547.56,"y":-47},{"s":"20°","x":1548.36,"y":-53},{"s":"20°","x":1549.26,"y":-57},{"s":"20°","x":1550.5,"y":-61},{"s":"20°","x":1551.5,"y":-63},{"s":"20°","x":1552.4,"y":-58},{"s":"20°","x":1552.75,"y":-46},{"s":"20°","x":1552.95,"y":-30},{"s":"20°","x":1553.5,"y":-30},{"s":"20°","x":1553.7,"y":-44},{"s":"20°","x":1554.05,"y":-54},{"s":"20°","x":1554.5,"y":-61},{"s":"20°","x":1555.6,"y":-64},{"s":"20°","x":1556.4,"y":-66},{"s":"20°","x":1557,"y":-67},
{"s":"30°","x":1537,"y":-57},{"s":"30°","x":1537.83,"y":-57},{"s":"30°","x":1538.33,"y":-52},{"s":"30°","x":1538.68,"y":-41},{"s":"30°","x":1538.93,"y":-24.9},{"s":"30°","x":1539.18,"y":-24.9},{"s":"30°","x":1539.43,"y":-41},{"s":"30°","x":1539.83,"y":-52},{"s":"30°","x":1540.53,"y":-59},{"s":"30°","x":1541.5,"y":-61},{"s":"30°","x":1542.5,"y":-58},{"s":"30°","x":1543.5,"y":-57},{"s":"30°","x":1544.4,"y":-55},{"s":"30°","x":1545.44,"y":-54},{"s":"30°","x":1546.04,"y":-50},{"s":"30°","x":1546.44,"y":-42},{"s":"30°","x":1546.69,"y":-27.4},{"s":"30°","x":1546.94,"y":-27.4},{"s":"30°","x":1547.19,"y":-39},{"s":"30°","x":1547.64,"y":-46},{"s":"30°","x":1548.44,"y":-52},{"s":"30°","x":1549.34,"y":-56},{"s":"30°","x":1550.5,"y":-60},{"s":"30°","x":1551.5,"y":-62},{"s":"30°","x":1552.5,"y":-57},{"s":"30°","x":1552.85,"y":-45},{"s":"30°","x":1553.05,"y":-30.1},{"s":"30°","x":1553.6,"y":-30.1},{"s":"30°","x":1553.8,"y":-43},{"s":"30°","x":1554.15,"y":-53},{"s":"30°","x":1554.6,"y":-60},{"s":"30°","x":1555.6,"y":-63},{"s":"30°","x":1556.4,"y":-65},{"s":"30°","x":1557,"y":-66},
{"s":"40°","x":1537,"y":-60},{"s":"40°","x":1537.9,"y":-59},{"s":"40°","x":1538.4,"y":-54},{"s":"40°","x":1538.75,"y":-43},{"s":"40°","x":1539,"y":-24.8},{"s":"40°","x":1539.25,"y":-24.8},{"s":"40°","x":1539.5,"y":-43},{"s":"40°","x":1539.9,"y":-54},{"s":"40°","x":1540.6,"y":-62},{"s":"40°","x":1541.5,"y":-63},{"s":"40°","x":1542.5,"y":-61},{"s":"40°","x":1543.5,"y":-60},{"s":"40°","x":1544.4,"y":-58},{"s":"40°","x":1545.52,"y":-56},{"s":"40°","x":1546.12,"y":-52},{"s":"40°","x":1546.52,"y":-44},{"s":"40°","x":1546.77,"y":-27.3},{"s":"40°","x":1547.02,"y":-27.3},{"s":"40°","x":1547.27,"y":-41},{"s":"40°","x":1547.72,"y":-48},{"s":"40°","x":1548.52,"y":-54},{"s":"40°","x":1549.42,"y":-58},{"s":"40°","x":1550.5,"y":-62},{"s":"40°","x":1551.5,"y":-64},{"s":"40°","x":1552.6,"y":-59},{"s":"40°","x":1552.95,"y":-47},{"s":"40°","x":1553.15,"y":-30},{"s":"40°","x":1553.7,"y":-30},{"s":"40°","x":1553.9,"y":-45},{"s":"40°","x":1554.25,"y":-55},{"s":"40°","x":1554.7,"y":-62},{"s":"40°","x":1555.6,"y":-65},{"s":"40°","x":1556.4,"y":-66},{"s":"40°","x":1557,"y":-67},
{"s":"50°","x":1537,"y":-58},{"s":"50°","x":1537.98,"y":-58},{"s":"50°","x":1538.48,"y":-53},{"s":"50°","x":1538.83,"y":-42},{"s":"50°","x":1539.08,"y":-24.9},{"s":"50°","x":1539.33,"y":-24.9},{"s":"50°","x":1539.58,"y":-42},{"s":"50°","x":1539.98,"y":-53},{"s":"50°","x":1540.68,"y":-60},{"s":"50°","x":1541.5,"y":-62},{"s":"50°","x":1542.5,"y":-59},{"s":"50°","x":1543.5,"y":-58},{"s":"50°","x":1544.4,"y":-56},{"s":"50°","x":1545.6,"y":-55},{"s":"50°","x":1546.2,"y":-51},{"s":"50°","x":1546.6,"y":-43},{"s":"50°","x":1546.85,"y":-27.4},{"s":"50°","x":1547.1,"y":-27.4},{"s":"50°","x":1547.35,"y":-40},{"s":"50°","x":1547.8,"y":-47},{"s":"50°","x":1548.6,"y":-53},{"s":"50°","x":1549.5,"y":-57},{"s":"50°","x":1550.5,"y":-61},{"s":"50°","x":1551.5,"y":-63},{"s":"50°","x":1552.7,"y":-58},{"s":"50°","x":1553.05,"y":-46},{"s":"50°","x":1553.25,"y":-30.1},{"s":"50°","x":1553.8,"y":-30.1},{"s":"50°","x":1554,"y":-44},{"s":"50°","x":1554.35,"y":-54},{"s":"50°","x":1554.8,"y":-61},{"s":"50°","x":1555.6,"y":-64},{"s":"50°","x":1556.4,"y":-66},{"s":"50°","x":1557,"y":-67},
{"s":"60°","x":1537,"y":-59},{"s":"60°","x":1538.05,"y":-59},{"s":"60°","x":1538.55,"y":-54},{"s":"60°","x":1538.9,"y":-43},{"s":"60°","x":1539.15,"y":-24.8},{"s":"60°","x":1539.4,"y":-24.8},{"s":"60°","x":1539.65,"y":-43},{"s":"60°","x":1540.05,"y":-54},{"s":"60°","x":1540.75,"y":-61},{"s":"60°","x":1541.5,"y":-62},{"s":"60°","x":1542.5,"y":-60},{"s":"60°","x":1543.5,"y":-59},{"s":"60°","x":1544.4,"y":-57},{"s":"60°","x":1545.68,"y":-56},{"s":"60°","x":1546.28,"y":-52},{"s":"60°","x":1546.68,"y":-44},{"s":"60°","x":1546.93,"y":-27.3},{"s":"60°","x":1547.18,"y":-27.3},{"s":"60°","x":1547.43,"y":-41},{"s":"60°","x":1547.88,"y":-48},{"s":"60°","x":1548.68,"y":-54},{"s":"60°","x":1549.58,"y":-58},{"s":"60°","x":1550.5,"y":-62},{"s":"60°","x":1551.5,"y":-63},{"s":"60°","x":1552.8,"y":-59},{"s":"60°","x":1553.15,"y":-47},{"s":"60°","x":1553.35,"y":-30},{"s":"60°","x":1553.9,"y":-30},{"s":"60°","x":1554.1,"y":-45},{"s":"60°","x":1554.45,"y":-55},{"s":"60°","x":1554.9,"y":-62},{"s":"60°","x":1555.6,"y":-65},{"s":"60°","x":1556.4,"y":-66},{"s":"60°","x":1557,"y":-68},
{"s":"70°","x":1537,"y":-58},{"s":"70°","x":1538.13,"y":-57},{"s":"70°","x":1538.63,"y":-52},{"s":"70°","x":1538.98,"y":-41},{"s":"70°","x":1539.23,"y":-24.9},{"s":"70°","x":1539.48,"y":-24.9},{"s":"70°","x":1539.73,"y":-41},{"s":"70°","x":1540.13,"y":-52},{"s":"70°","x":1540.83,"y":-60},{"s":"70°","x":1541.5,"y":-61},{"s":"70°","x":1542.5,"y":-59},{"s":"70°","x":1543.5,"y":-58},{"s":"70°","x":1544.4,"y":-56},{"s":"70°","x":1545.76,"y":-54},{"s":"70°","x":1546.36,"y":-50},{"s":"70°","x":1546.76,"y":-42},{"s":"70°","x":1547.01,"y":-27.4},{"s":"70°","x":1547.26,"y":-27.4},{"s":"70°","x":1547.51,"y":-39},{"s":"70°","x":1547.96,"y":-46},{"s":"70°","x":1548.76,"y":-52},{"s":"70°","x":1549.66,"y":-56},{"s":"70°","x":1550.5,"y":-60},{"s":"70°","x":1551.5,"y":-62},{"s":"70°","x":1552.9,"y":-57},{"s":"70°","x":1553.25,"y":-45},{"s":"70°","x":1553.45,"y":-30.1},{"s":"70°","x":1554,"y":-30.1},{"s":"70°","x":1554.2,"y":-43},{"s":"70°","x":1554.55,"y":-53},{"s":"70°","x":1555,"y":-60},{"s":"70°","x":1555.6,"y":-63},{"s":"70°","x":1556.4,"y":-65},{"s":"70°","x":1557,"y":-66},
{"s":"80°","x":1537,"y":-60},{"s":"80°","x":1538.2,"y":-59},{"s":"80°","x":1538.7,"y":-54},{"s":"80°","x":1539.05,"y":-43},{"s":"80°","x":1539.3,"y":-24.8},{"s":"80°","x":1539.55,"y":-24.8},{"s":"80°","x":1539.8,"y":-43},{"s":"80°","x":1540.2,"y":-54},{"s":"80°","x":1540.9,"y":-61},{"s":"80°","x":1541.5,"y":-63},{"s":"80°","x":1542.5,"y":-61},{"s":"80°","x":1543.5,"y":-60},{"s":"80°","x":1544.4,"y":-58},{"s":"80°","x":1545.84,"y":-56},{"s":"80°","x":1546.44,"y":-52},{"s":"80°","x":1546.84,"y":-44},{"s":"80°","x":1547.09,"y":-27.3},{"s":"80°","x":1547.34,"y":-27.3},{"s":"80°","x":1547.59,"y":-41},{"s":"80°","x":1548.04,"y":-48},{"s":"80°","x":1548.84,"y":-54},{"s":"80°","x":1549.74,"y":-58},{"s":"80°","x":1550.5,"y":-62},{"s":"80°","x":1551.5,"y":-64},{"s":"80°","x":1553,"y":-59},{"s":"80°","x":1553.35,"y":-47},{"s":"80°","x":1553.55,"y":-30},{"s":"80°","x":1554.1,"y":-30},{"s":"80°","x":1554.3,"y":-45},{"s":"80°","x":1554.65,"y":-55},{"s":"80°","x":1555.1,"y":-62},{"s":"80°","x":1555.6,"y":-65},{"s":"80°","x":1556.4,"y":-67},{"s":"80°","x":1557,"y":-67},
{"s":"90°","x":1537,"y":-59},{"s":"90°","x":1538.28,"y":-58},{"s":"90°","x":1538.78,"y":-53},{"s":"90°","x":1539.13,"y":-42},{"s":"90°","x":1539.38,"y":-24.9},{"s":"90°","x":1539.63,"y":-24.9},{"s":"90°","x":1539.88,"y":-42},{"s":"90°","x":1540.28,"y":-53},{"s":"90°","x":1540.98,"y":-60},{"s":"90°","x":1541.5,"y":-62},{"s":"90°","x":1542.5,"y":-59},{"s":"90°","x":1543.5,"y":-58},{"s":"90°","x":1544.4,"y":-56},{"s":"90°","x":1545.92,"y":-55},{"s":"90°","x":1546.52,"y":-51},{"s":"90°","x":1546.92,"y":-43},{"s":"90°","x":1547.17,"y":-27.4},{"s":"90°","x":1547.42,"y":-27.4},{"s":"90°","x":1547.67,"y":-40},{"s":"90°","x":1548.12,"y":-47},{"s":"90°","x":1548.92,"y":-53},{"s":"90°","x":1549.82,"y":-57},{"s":"90°","x":1550.5,"y":-61},{"s":"90°","x":1551.5,"y":-63},{"s":"90°","x":1553.1,"y":-58},{"s":"90°","x":1553.45,"y":-46},{"s":"90°","x":1553.65,"y":-30.1},{"s":"90°","x":1554.2,"y":-30.1},{"s":"90°","x":1554.4,"y":-44},{"s":"90°","x":1554.75,"y":-54},{"s":"90°","x":1555.2,"y":-61},{"s":"90°","x":1555.6,"y":-64},{"s":"90°","x":1556.4,"y":-66},{"s":"90°","x":1557,"y":-67}
],
"di":[
{"s":"0°","x":1538.81,"y":-35},{"s":"0°","x":1538.86,"y":-30},{"s":"0°","x":1538.93,"y":-26},{"s":"0°","x":1539.02,"y":-24.8},{"s":"0°","x":1539.11,"y":-26},{"s":"0°","x":1539.18,"y":-30},{"s":"0°","x":1539.23,"y":-35},
{"s":"10°","x":1538.88,"y":-35},{"s":"10°","x":1538.93,"y":-30},{"s":"10°","x":1539,"y":-26},{"s":"10°","x":1539.09,"y":-24.8},{"s":"10°","x":1539.18,"y":-26},{"s":"10°","x":1539.25,"y":-30},{"s":"10°","x":1539.3,"y":-35},
{"s":"20°","x":1538.94,"y":-35},{"s":"20°","x":1538.99,"y":-30},{"s":"20°","x":1539.06,"y":-26},{"s":"20°","x":1539.15,"y":-24.8},{"s":"20°","x":1539.24,"y":-26},{"s":"20°","x":1539.31,"y":-30},{"s":"20°","x":1539.36,"y":-35},
{"s":"30°","x":1539.01,"y":-35},{"s":"30°","x":1539.06,"y":-30},{"s":"30°","x":1539.13,"y":-26},{"s":"30°","x":1539.22,"y":-24.8},{"s":"30°","x":1539.31,"y":-26},{"s":"30°","x":1539.38,"y":-30},{"s":"30°","x":1539.43,"y":-35},
{"s":"40°","x":1539.08,"y":-35},{"s":"40°","x":1539.13,"y":-30},{"s":"40°","x":1539.2,"y":-26},{"s":"40°","x":1539.29,"y":-24.8},{"s":"40°","x":1539.38,"y":-26},{"s":"40°","x":1539.45,"y":-30},{"s":"40°","x":1539.5,"y":-35},
{"s":"50°","x":1539.15,"y":-35},{"s":"50°","x":1539.2,"y":-30},{"s":"50°","x":1539.27,"y":-26},{"s":"50°","x":1539.36,"y":-24.8},{"s":"50°","x":1539.45,"y":-26},{"s":"50°","x":1539.52,"y":-30},{"s":"50°","x":1539.57,"y":-35},
{"s":"60°","x":1539.21,"y":-35},{"s":"60°","x":1539.26,"y":-30},{"s":"60°","x":1539.33,"y":-26},{"s":"60°","x":1539.42,"y":-24.8},{"s":"60°","x":1539.51,"y":-26},{"s":"60°","x":1539.58,"y":-30},{"s":"60°","x":1539.63,"y":-35},
{"s":"70°","x":1539.28,"y":-35},{"s":"70°","x":1539.33,"y":-30},{"s":"70°","x":1539.4,"y":-26},{"s":"70°","x":1539.49,"y":-24.8},{"s":"70°","x":1539.58,"y":-26},{"s":"70°","x":1539.65,"y":-30},{"s":"70°","x":1539.7,"y":-35},
{"s":"80°","x":1539.35,"y":-35},{"s":"80°","x":1539.4,"y":-30},{"s":"80°","x":1539.47,"y":-26},{"s":"80°","x":1539.56,"y":-24.8},{"s":"80°","x":1539.65,"y":-26},{"s":"80°","x":1539.72,"y":-30},{"s":"80°","x":1539.77,"y":-35},
{"s":"90°","x":1539.41,"y":-35},{"s":"90°","x":1539.46,"y":-30},{"s":"90°","x":1539.53,"y":-26},{"s":"90°","x":1539.62,"y":-24.8},{"s":"90°","x":1539.71,"y":-26},{"s":"90°","x":1539.78,"y":-30},{"s":"90°","x":1539.83,"y":-35}
]
},
"concat":[
{
 "width":246,"height":153,
 "data":{"values":[{}]},
 "resolve":{"scale":{"x":"independent","y":"independent"}},
 "layer":[
  {"data":{"name":"a"},"mark":{"type":"line","strokeWidth":1.8},
   "encoding":{
    "x":{"field":"x","type":"quantitative","scale":{"domain":[1535,1555.9],"nice":false,"zero":false},"axis":{"orient":"bottom","values":[1535,1540,1545,1550,1555],"title":"Wavelength (nm)","labelExpr":"''+datum.value"}},
    "y":{"field":"y","type":"quantitative","scale":{"domain":[-46,-12.5],"nice":false,"zero":false},"axis":{"orient":"left","values":[-46,-41,-36,-31,-26,-21,-16],"title":"Intensity (dBm)","labelExpr":"''+datum.value"}},
    "color":{"field":"s","type":"nominal","scale":{"domain":["0°","10°","20°","30°","40°","50°","60°","70°","80°","90°"],"range":["#FF0000","#ED7D31","#A5A5A5","#FFC000","#5B9BD5","#70AD47","#264478","#9E480E","#636363","#997300"]},"legend":{"title":null,"orient":"none","legendX":258,"legendY":0}}}},
  {"mark":{"type":"text","align":"left","baseline":"middle","fontSize":14,"font":"Liberation Serif","fontWeight":"bold"},"encoding":{"x":{"datum":1531.0,"type":"quantitative","scale":{"domain":[1535,1555.9],"nice":false,"zero":false},"axis":null},"y":{"datum":-14.9,"type":"quantitative","scale":{"domain":[-46,-12.5],"nice":false,"zero":false},"axis":null},"text":{"value":"(a)"}}},
  {"mark":{"type":"text","align":"left","baseline":"middle","fontSize":10,"color":"#2F75B5"},"encoding":{"x":{"datum":1535.34,"type":"quantitative","scale":{"domain":[1535,1555.9],"nice":false,"zero":false},"axis":null},"y":{"datum":-14.25,"type":"quantitative","scale":{"domain":[-46,-12.5],"nice":false,"zero":false},"axis":null},"text":{"value":"+x"}}},
  {"mark":{"type":"text","align":"left","baseline":"middle","fontSize":13},"encoding":{"x":{"datum":1536.61,"type":"quantitative","scale":{"domain":[1535,1555.9],"nice":false,"zero":false},"axis":null},"y":{"datum":-17.76,"type":"quantitative","scale":{"domain":[-46,-12.5],"nice":false,"zero":false},"axis":null},"text":{"value":"Shift  0°"}}},
  {"mark":{"type":"rule","color":"#E82020","strokeWidth":1.6},"encoding":{"x":{"datum":1540.44,"type":"quantitative","scale":{"domain":[1535,1555.9],"nice":false,"zero":false},"axis":null},"x2":{"datum":1543.0},"y":{"datum":-17.76,"type":"quantitative","scale":{"domain":[-46,-12.5],"nice":false,"zero":false},"axis":null}}},
  {"mark":{"type":"point","shape":"triangle-right","filled":true,"color":"#E82020","size":40,"opacity":1},"encoding":{"x":{"datum":1543.08,"type":"quantitative","scale":{"domain":[1535,1555.9],"nice":false,"zero":false},"axis":null},"y":{"datum":-17.76,"type":"quantitative","scale":{"domain":[-46,-12.5],"nice":false,"zero":false},"axis":null}}},
  {"mark":{"type":"text","align":"left","baseline":"middle","fontSize":13},"encoding":{"x":{"datum":1543.41,"type":"quantitative","scale":{"domain":[1535,1555.9],"nice":false,"zero":false},"axis":null},"y":{"datum":-17.76,"type":"quantitative","scale":{"domain":[-46,-12.5],"nice":false,"zero":false},"axis":null},"text":{"value":"90°"}}},
  {"mark":{"type":"text","align":"center","baseline":"middle","fontSize":12.5},"encoding":{"x":{"datum":1538.14,"type":"quantitative","scale":{"domain":[1535,1555.9],"nice":false,"zero":false},"axis":null},"y":{"datum":-21.48,"type":"quantitative","scale":{"domain":[-46,-12.5],"nice":false,"zero":false},"axis":null},"text":{"value":"T 1"}}},
  {"mark":{"type":"text","align":"center","baseline":"middle","fontSize":12.5},"encoding":{"x":{"datum":1545.28,"type":"quantitative","scale":{"domain":[1535,1555.9],"nice":false,"zero":false},"axis":null},"y":{"datum":-26.95,"type":"quantitative","scale":{"domain":[-46,-12.5],"nice":false,"zero":false},"axis":null},"text":{"value":"T 2"}}},
  {"mark":{"type":"text","align":"center","baseline":"middle","fontSize":12.5},"encoding":{"x":{"datum":1552.59,"type":"quantitative","scale":{"domain":[1535,1555.9],"nice":false,"zero":false},"axis":null},"y":{"datum":-28.7,"type":"quantitative","scale":{"domain":[-46,-12.5],"nice":false,"zero":false},"axis":null},"text":{"value":"T 3"}}},
  {"mark":{"type":"rect","fill":"#fff","stroke":"#666","strokeWidth":1},"encoding":{"x":{"datum":1537.4,"type":"quantitative","scale":{"domain":[1537.4,1538.7],"range":[157,241],"nice":false,"zero":false},"axis":null},"x2":{"datum":1538.7},"y":{"datum":-30,"type":"quantitative","scale":{"domain":[-30,-21.6],"range":[54.7,4.7],"nice":false,"zero":false},"axis":null},"y2":{"datum":-21.6}}},
  {"data":{"name":"ai"},"mark":{"type":"line","strokeWidth":1,"interpolate":"monotone"},
   "encoding":{
    "x":{"field":"x","type":"quantitative","scale":{"domain":[1537.4,1538.7],"range":[157,241],"nice":false,"zero":false},"axis":{"orient":"bottom","offset":-98.3,"values":[1537.4,1537.8,1538.2,1538.6],"title":null,"labelExpr":"''+datum.value","labelFontSize":5.5,"labelFontWeight":"normal","labelColor":"#333","tickSize":2,"tickColor":"#666","labelPadding":1}},
    "y":{"field":"y","type":"quantitative","scale":{"domain":[-30,-21.6],"range":[54.7,4.7],"nice":false,"zero":false},"axis":{"orient":"left","offset":-157,"values":[-30,-26,-22],"title":null,"labelExpr":"''+datum.value","labelFontSize":5.5,"labelFontWeight":"normal","labelColor":"#333","tickSize":2,"tickColor":"#666","labelPadding":2}},
    "color":{"field":"s","type":"nominal","scale":{"domain":["0°","10°","20°","30°","40°","50°","60°","70°","80°","90°"],"range":["#FF0000","#ED7D31","#A5A5A5","#FFC000","#5B9BD5","#70AD47","#264478","#9E480E","#636363","#997300"]},"legend":{"title":null,"orient":"none","legendX":258,"legendY":0}}}},
  {"mark":{"type":"text","align":"left","baseline":"middle","fontSize":8,"fontWeight":"bold"},"encoding":{"x":{"datum":1537.48,"type":"quantitative","scale":{"domain":[1537.4,1538.7],"range":[157,241],"nice":false,"zero":false},"axis":null},"y":{"datum":-22.66,"type":"quantitative","scale":{"domain":[-30,-21.6],"range":[54.7,4.7],"nice":false,"zero":false},"axis":null},"text":{"value":"T1"}}},
  {"mark":{"type":"text","align":"left","baseline":"middle","fontSize":5.5},"encoding":{"x":{"datum":1537.86,"type":"quantitative","scale":{"domain":[1537.4,1538.7],"range":[157,241],"nice":false,"zero":false},"axis":null},"y":{"datum":-22.49,"type":"quantitative","scale":{"domain":[-30,-21.6],"range":[54.7,4.7],"nice":false,"zero":false},"axis":null},"text":{"value":"0°"}}},
  {"mark":{"type":"rule","color":"#E82020","strokeWidth":1},"encoding":{"x":{"datum":1537.97,"type":"quantitative","scale":{"domain":[1537.4,1538.7],"range":[157,241],"nice":false,"zero":false},"axis":null},"x2":{"datum":1538.26},"y":{"datum":-22.49,"type":"quantitative","scale":{"domain":[-30,-21.6],"range":[54.7,4.7],"nice":false,"zero":false},"axis":null}}},
  {"mark":{"type":"text","align":"left","baseline":"middle","fontSize":5.5},"encoding":{"x":{"datum":1538.32,"type":"quantitative","scale":{"domain":[1537.4,1538.7],"range":[157,241],"nice":false,"zero":false},"axis":null},"y":{"datum":-22.49,"type":"quantitative","scale":{"domain":[-30,-21.6],"range":[54.7,4.7],"nice":false,"zero":false},"axis":null},"text":{"value":"90°"}}}
 ]
},
{
 "width":246,"height":153,
 "data":{"values":[{}]},
 "resolve":{"scale":{"x":"independent","y":"independent"}},
 "layer":[
  {"data":{"name":"b"},"mark":{"type":"line","strokeWidth":1.6},
   "encoding":{
    "x":{"field":"x","type":"quantitative","scale":{"domain":[1537,1557],"nice":false,"zero":false},"axis":{"orient":"bottom","values":[1537,1542,1547,1552,1557],"title":"Wavelength (nm)","labelExpr":"''+datum.value"}},
    "y":{"field":"y","type":"quantitative","scale":{"domain":[-68,-4.25],"nice":false,"zero":false},"axis":{"orient":"left","values":[-68,-48,-28,-8],"title":"Intensity (dBm)","labelExpr":"''+datum.value","titlePadding":5}},
    "color":{"field":"s","type":"nominal","scale":{"domain":["0°","10°","20°","30°","40°","50°","60°","70°","80°","90°"],"range":["#4472C4","#ED7D31","#A5A5A5","#FFC000","#5B9BD5","#70AD47","#264478","#9E480E","#636363","#997300"]},"legend":{"title":null,"orient":"none","legendX":258,"legendY":0}}}},
  {"mark":{"type":"text","align":"left","baseline":"middle","fontSize":10,"color":"#2F75B5"},"encoding":{"x":{"datum":1537.33,"type":"quantitative","scale":{"domain":[1537,1557],"nice":false,"zero":false},"axis":null},"y":{"datum":-7.58,"type":"quantitative","scale":{"domain":[-68,-4.25],"nice":false,"zero":false},"axis":null},"text":{"value":"+y"}}},
  {"mark":{"type":"text","align":"left","baseline":"middle","fontSize":13},"encoding":{"x":{"datum":1538.85,"type":"quantitative","scale":{"domain":[1537,1557],"nice":false,"zero":false},"axis":null},"y":{"datum":-14.67,"type":"quantitative","scale":{"domain":[-68,-4.25],"nice":false,"zero":false},"axis":null},"text":{"value":"Shift  0°"}}},
  {"mark":{"type":"rule","color":"#E82020","strokeWidth":1.6},"encoding":{"x":{"datum":1542.5,"type":"quantitative","scale":{"domain":[1537,1557],"nice":false,"zero":false},"axis":null},"x2":{"datum":1545.1},"y":{"datum":-14.67,"type":"quantitative","scale":{"domain":[-68,-4.25],"nice":false,"zero":false},"axis":null}}},
  {"mark":{"type":"point","shape":"triangle-right","filled":true,"color":"#E82020","size":40,"opacity":1},"encoding":{"x":{"datum":1545.18,"type":"quantitative","scale":{"domain":[1537,1557],"nice":false,"zero":false},"axis":null},"y":{"datum":-14.67,"type":"quantitative","scale":{"domain":[-68,-4.25],"nice":false,"zero":false},"axis":null}}},
  {"mark":{"type":"text","align":"left","baseline":"middle","fontSize":13},"encoding":{"x":{"datum":1545.56,"type":"quantitative","scale":{"domain":[1537,1557],"nice":false,"zero":false},"axis":null},"y":{"datum":-14.67,"type":"quantitative","scale":{"domain":[-68,-4.25],"nice":false,"zero":false},"axis":null},"text":{"value":"90°"}}},
  {"mark":{"type":"text","align":"center","baseline":"middle","fontSize":12.5},"encoding":{"x":{"datum":1541.28,"type":"quantitative","scale":{"domain":[1537,1557],"nice":false,"zero":false},"axis":null},"y":{"datum":-22.17,"type":"quantitative","scale":{"domain":[-68,-4.25],"nice":false,"zero":false},"axis":null},"text":{"value":"T 1"}}},
  {"mark":{"type":"text","align":"center","baseline":"middle","fontSize":12.5},"encoding":{"x":{"datum":1545.89,"type":"quantitative","scale":{"domain":[1537,1557],"nice":false,"zero":false},"axis":null},"y":{"datum":-29.8,"type":"quantitative","scale":{"domain":[-68,-4.25],"nice":false,"zero":false},"axis":null},"text":{"value":"T 2"}}},
  {"mark":{"type":"text","align":"center","baseline":"middle","fontSize":12.5},"encoding":{"x":{"datum":1551.85,"type":"quantitative","scale":{"domain":[1537,1557],"nice":false,"zero":false},"axis":null},"y":{"datum":-36.04,"type":"quantitative","scale":{"domain":[-68,-4.25],"nice":false,"zero":false},"axis":null},"text":{"value":"T 3"}}},
  {"mark":{"type":"rect","fill":"#fff","stroke":"#444","strokeWidth":1},"encoding":{"x":{"datum":1540.9,"type":"quantitative","scale":{"domain":[1540.9,1541.88],"range":[152,236],"nice":false,"zero":false},"axis":null},"x2":{"datum":1541.88},"y":{"datum":-33,"type":"quantitative","scale":{"domain":[-33,-22.2],"range":[53,5.7],"nice":false,"zero":false},"axis":null},"y2":{"datum":-22.2}}},
  {"data":{"name":"bi"},"mark":{"type":"line","strokeWidth":1,"interpolate":"monotone"},
   "encoding":{
    "x":{"field":"x","type":"quantitative","scale":{"domain":[1540.9,1541.88],"range":[152,236],"nice":false,"zero":false},"axis":{"orient":"bottom","offset":-100,"values":[1540.9,1541.2,1541.5,1541.8],"title":null,"labelExpr":"''+datum.value","labelFontSize":5.5,"labelFontWeight":"normal","labelColor":"#333","tickSize":2,"tickColor":"#666","labelPadding":1}},
    "y":{"field":"y","type":"quantitative","scale":{"domain":[-33,-22.2],"range":[53,5.7],"nice":false,"zero":false},"axis":{"orient":"left","offset":-152,"values":[-33,-30,-27,-24],"title":null,"labelExpr":"''+datum.value","labelFontSize":5.5,"labelFontWeight":"normal","labelColor":"#333","tickSize":2,"tickColor":"#666","labelPadding":2}},
    "color":{"field":"s","type":"nominal","scale":{"domain":["0°","10°","20°","30°","40°","50°","60°","70°","80°","90°"],"range":["#4472C4","#ED7D31","#A5A5A5","#FFC000","#5B9BD5","#70AD47","#264478","#9E480E","#636363","#997300"]},"legend":{"title":null,"orient":"none","legendX":258,"legendY":0}}}},
  {"mark":{"type":"text","align":"left","baseline":"middle","fontSize":8,"fontWeight":"bold"},"encoding":{"x":{"datum":1540.935,"type":"quantitative","scale":{"domain":[1540.9,1541.88],"range":[152,236],"nice":false,"zero":false},"axis":null},"y":{"datum":-22.73,"type":"quantitative","scale":{"domain":[-33,-22.2],"range":[53,5.7],"nice":false,"zero":false},"axis":null},"text":{"value":"T1"}}},
  {"mark":{"type":"text","align":"left","baseline":"middle","fontSize":5.5},"encoding":{"x":{"datum":1541.1,"type":"quantitative","scale":{"domain":[1540.9,1541.88],"range":[152,236],"nice":false,"zero":false},"axis":null},"y":{"datum":-23.41,"type":"quantitative","scale":{"domain":[-33,-22.2],"range":[53,5.7],"nice":false,"zero":false},"axis":null},"text":{"value":"0°"}}},
  {"mark":{"type":"rule","color":"#E82020","strokeWidth":1},"encoding":{"x":{"datum":1541.18,"type":"quantitative","scale":{"domain":[1540.9,1541.88],"range":[152,236],"nice":false,"zero":false},"axis":null},"x2":{"datum":1541.62},"y":{"datum":-23.41,"type":"quantitative","scale":{"domain":[-33,-22.2],"range":[53,5.7],"nice":false,"zero":false},"axis":null}}},
  {"mark":{"type":"text","align":"left","baseline":"middle","fontSize":5.5},"encoding":{"x":{"datum":1541.67,"type":"quantitative","scale":{"domain":[1540.9,1541.88],"range":[152,236],"nice":false,"zero":false},"axis":null},"y":{"datum":-23.41,"type":"quantitative","scale":{"domain":[-33,-22.2],"range":[53,5.7],"nice":false,"zero":false},"axis":null},"text":{"value":"90°"}}}
 ]
},
{
 "width":246,"height":153,
 "data":{"values":[{}]},
 "resolve":{"scale":{"x":"independent","y":"independent"}},
 "layer":[
  {"data":{"name":"c"},"mark":{"type":"line","strokeWidth":1.8},
   "encoding":{
    "x":{"field":"x","type":"quantitative","scale":{"domain":[1537,1557],"nice":false,"zero":false},"axis":{"orient":"bottom","values":[1537,1542,1547,1552,1557],"title":"Wavelength (nm)","labelExpr":"''+datum.value"}},
    "y":{"field":"y","type":"quantitative","scale":{"domain":[-46,-15],"nice":false,"zero":false},"axis":{"orient":"left","values":[-46,-36,-26,-16],"title":"Intensity (dBm)","labelExpr":"''+datum.value"}},
    "color":{"field":"s","type":"nominal","scale":{"domain":["0°","10°","20°","30°","40°","50°","60°","70°","80°","90°"],"range":["#339933","#ED7D31","#A5A5A5","#FFC000","#5B9BD5","#70AD47","#264478","#9E480E","#636363","#997300"]},"legend":{"title":null,"orient":"none","legendX":258,"legendY":0}}}},
  {"mark":{"type":"text","align":"left","baseline":"middle","fontSize":14,"font":"Liberation Serif","fontWeight":"bold"},"encoding":{"x":{"datum":1533.18,"type":"quantitative","scale":{"domain":[1537,1557],"nice":false,"zero":false},"axis":null},"y":{"datum":-15.6,"type":"quantitative","scale":{"domain":[-46,-15],"nice":false,"zero":false},"axis":null},"text":{"value":"(b)"}}},
  {"mark":{"type":"text","align":"left","baseline":"middle","fontSize":10,"color":"#2F75B5"},"encoding":{"x":{"datum":1537.35,"type":"quantitative","scale":{"domain":[1537,1557],"nice":false,"zero":false},"axis":null},"y":{"datum":-16.68,"type":"quantitative","scale":{"domain":[-46,-15],"nice":false,"zero":false},"axis":null},"text":{"value":"-x"}}},
  {"mark":{"type":"text","align":"left","baseline":"middle","fontSize":13},"encoding":{"x":{"datum":1538.44,"type":"quantitative","scale":{"domain":[1537,1557],"nice":false,"zero":false},"axis":null},"y":{"datum":-19.26,"type":"quantitative","scale":{"domain":[-46,-15],"nice":false,"zero":false},"axis":null},"text":{"value":"Shift  0°"}}},
  {"mark":{"type":"rule","color":"#E82020","strokeWidth":1.6},"encoding":{"x":{"datum":1541.96,"type":"quantitative","scale":{"domain":[1537,1557],"nice":false,"zero":false},"axis":null},"x2":{"datum":1544.45},"y":{"datum":-19.26,"type":"quantitative","scale":{"domain":[-46,-15],"nice":false,"zero":false},"axis":null}}},
  {"mark":{"type":"point","shape":"triangle-right","filled":true,"color":"#E82020","size":40,"opacity":1},"encoding":{"x":{"datum":1544.53,"type":"quantitative","scale":{"domain":[1537,1557],"nice":false,"zero":false},"axis":null},"y":{"datum":-19.26,"type":"quantitative","scale":{"domain":[-46,-15],"nice":false,"zero":false},"axis":null}}},
  {"mark":{"type":"text","align":"left","baseline":"middle","fontSize":13},"encoding":{"x":{"datum":1544.94,"type":"quantitative","scale":{"domain":[1537,1557],"nice":false,"zero":false},"axis":null},"y":{"datum":-19.26,"type":"quantitative","scale":{"domain":[-46,-15],"nice":false,"zero":false},"axis":null},"text":{"value":"90°"}}},
  {"mark":{"type":"text","align":"center","baseline":"middle","fontSize":12.5},"encoding":{"x":{"datum":1541.15,"type":"quantitative","scale":{"domain":[1537,1557],"nice":false,"zero":false},"axis":null},"y":{"datum":-23.57,"type":"quantitative","scale":{"domain":[-46,-15],"nice":false,"zero":false},"axis":null},"text":{"value":"T 1"}}},
  {"mark":{"type":"text","align":"center","baseline":"middle","fontSize":12.5},"encoding":{"x":{"datum":1546.43,"type":"quantitative","scale":{"domain":[1537,1557],"nice":false,"zero":false},"axis":null},"y":{"datum":-28.03,"type":"quantitative","scale":{"domain":[-46,-15],"nice":false,"zero":false},"axis":null},"text":{"value":"T 2"}}},
  {"mark":{"type":"text","align":"center","baseline":"middle","fontSize":12.5},"encoding":{"x":{"datum":1552.2,"type":"quantitative","scale":{"domain":[1537,1557],"nice":false,"zero":false},"axis":null},"y":{"datum":-30.74,"type":"quantitative","scale":{"domain":[-46,-15],"nice":false,"zero":false},"axis":null},"text":{"value":"T 3"}}},
  {"mark":{"type":"rect","fill":"#fff","stroke":"#444","strokeWidth":1},"encoding":{"x":{"datum":1540.4,"type":"quantitative","scale":{"domain":[1540.4,1542.05],"range":[154,243],"nice":false,"zero":false},"axis":null},"x2":{"datum":1542.05},"y":{"datum":-32,"type":"quantitative","scale":{"domain":[-32,-24],"range":[52,5],"nice":false,"zero":false},"axis":null},"y2":{"datum":-24}}},
  {"data":{"name":"ci"},"mark":{"type":"line","strokeWidth":1,"interpolate":"monotone"},
   "encoding":{
    "x":{"field":"x","type":"quantitative","scale":{"domain":[1540.4,1542.05],"range":[154,243],"nice":false,"zero":false},"axis":{"orient":"bottom","offset":-101,"values":[1540.5,1541.1,1541.7],"title":null,"labelExpr":"''+datum.value","labelFontSize":5.5,"labelFontWeight":"normal","labelColor":"#333","tickSize":2,"tickColor":"#666","labelPadding":1}},
    "y":{"field":"y","type":"quantitative","scale":{"domain":[-32,-24],"range":[52,5],"nice":false,"zero":false},"axis":{"orient":"left","offset":-154,"values":[-32,-28,-24],"title":null,"labelExpr":"''+datum.value","labelFontSize":5.5,"labelFontWeight":"normal","labelColor":"#333","tickSize":2,"tickColor":"#666","labelPadding":2}},
    "color":{"field":"s","type":"nominal","scale":{"domain":["0°","10°","20°","30°","40°","50°","60°","70°","80°","90°"],"range":["#339933","#ED7D31","#A5A5A5","#FFC000","#5B9BD5","#70AD47","#264478","#9E480E","#636363","#997300"]},"legend":{"title":null,"orient":"none","legendX":258,"legendY":0}}}},
  {"mark":{"type":"text","align":"left","baseline":"middle","fontSize":8,"fontWeight":"bold"},"encoding":{"x":{"datum":1540.47,"type":"quantitative","scale":{"domain":[1540.4,1542.05],"range":[154,243],"nice":false,"zero":false},"axis":null},"y":{"datum":-24.85,"type":"quantitative","scale":{"domain":[-32,-24],"range":[52,5],"nice":false,"zero":false},"axis":null},"text":{"value":"T1"}}},
  {"mark":{"type":"text","align":"left","baseline":"middle","fontSize":5.5},"encoding":{"x":{"datum":1540.83,"type":"quantitative","scale":{"domain":[1540.4,1542.05],"range":[154,243],"nice":false,"zero":false},"axis":null},"y":{"datum":-24.56,"type":"quantitative","scale":{"domain":[-32,-24],"range":[52,5],"nice":false,"zero":false},"axis":null},"text":{"value":"0°"}}},
  {"mark":{"type":"rule","color":"#E82020","strokeWidth":1},"encoding":{"x":{"datum":1540.95,"type":"quantitative","scale":{"domain":[1540.4,1542.05],"range":[154,243],"nice":false,"zero":false},"axis":null},"x2":{"datum":1541.42},"y":{"datum":-24.56,"type":"quantitative","scale":{"domain":[-32,-24],"range":[52,5],"nice":false,"zero":false},"axis":null}}},
  {"mark":{"type":"text","align":"left","baseline":"middle","fontSize":5.5},"encoding":{"x":{"datum":1541.48,"type":"quantitative","scale":{"domain":[1540.4,1542.05],"range":[154,243],"nice":false,"zero":false},"axis":null},"y":{"datum":-24.56,"type":"quantitative","scale":{"domain":[-32,-24],"range":[52,5],"nice":false,"zero":false},"axis":null},"text":{"value":"90°"}}}
 ]
},
{
 "width":246,"height":153,
 "data":{"values":[{}]},
 "resolve":{"scale":{"x":"independent","y":"independent"}},
 "layer":[
  {"data":{"name":"d"},"mark":{"type":"line","strokeWidth":1.6},
   "encoding":{
    "x":{"field":"x","type":"quantitative","scale":{"domain":[1537,1557],"nice":false,"zero":false},"axis":{"orient":"bottom","values":[1537,1542,1547,1552,1557],"title":"Wavelength (nm)","labelExpr":"''+datum.value"}},
    "y":{"field":"y","type":"quantitative","scale":{"domain":[-68,-0.5],"nice":false,"zero":false},"axis":{"orient":"left","values":[-68,-58,-48,-38,-28,-18,-8],"title":"Intensity (dBm)","labelExpr":"''+datum.value","titlePadding":5}},
    "color":{"field":"s","type":"nominal","scale":{"domain":["0°","10°","20°","30°","40°","50°","60°","70°","80°","90°"],"range":["#7030A0","#ED7D31","#A5A5A5","#FFC000","#5B9BD5","#70AD47","#264478","#9E480E","#636363","#997300"]},"legend":{"title":null,"orient":"none","legendX":258,"legendY":0}}}},
  {"mark":{"type":"text","align":"left","baseline":"middle","fontSize":10,"color":"#2F75B5"},"encoding":{"x":{"datum":1537.35,"type":"quantitative","scale":{"domain":[1537,1557],"nice":false,"zero":false},"axis":null},"y":{"datum":-4.47,"type":"quantitative","scale":{"domain":[-68,-0.5],"nice":false,"zero":false},"axis":null},"text":{"value":"-y"}}},
  {"mark":{"type":"text","align":"left","baseline":"middle","fontSize":13},"encoding":{"x":{"datum":1538.03,"type":"quantitative","scale":{"domain":[1537,1557],"nice":false,"zero":false},"axis":null},"y":{"datum":-12.54,"type":"quantitative","scale":{"domain":[-68,-0.5],"nice":false,"zero":false},"axis":null},"text":{"value":"Shift  0°"}}},
  {"mark":{"type":"rule","color":"#E82020","strokeWidth":1.6},"encoding":{"x":{"datum":1541.28,"type":"quantitative","scale":{"domain":[1537,1557],"nice":false,"zero":false},"axis":null},"x2":{"datum":1543.8},"y":{"datum":-12.54,"type":"quantitative","scale":{"domain":[-68,-0.5],"nice":false,"zero":false},"axis":null}}},
  {"mark":{"type":"point","shape":"triangle-right","filled":true,"color":"#E82020","size":40,"opacity":1},"encoding":{"x":{"datum":1543.88,"type":"quantitative","scale":{"domain":[1537,1557],"nice":false,"zero":false},"axis":null},"y":{"datum":-12.54,"type":"quantitative","scale":{"domain":[-68,-0.5],"nice":false,"zero":false},"axis":null}}},
  {"mark":{"type":"text","align":"left","baseline":"middle","fontSize":13},"encoding":{"x":{"datum":1544.34,"type":"quantitative","scale":{"domain":[1537,1557],"nice":false,"zero":false},"axis":null},"y":{"datum":-12.54,"type":"quantitative","scale":{"domain":[-68,-0.5],"nice":false,"zero":false},"axis":null},"text":{"value":"90°"}}},
  {"mark":{"type":"text","align":"center","baseline":"middle","fontSize":12.5},"encoding":{"x":{"datum":1539.38,"type":"quantitative","scale":{"domain":[1537,1557],"nice":false,"zero":false},"axis":null},"y":{"datum":-20.66,"type":"quantitative","scale":{"domain":[-68,-0.5],"nice":false,"zero":false},"axis":null},"text":{"value":"T 1"}}},
  {"mark":{"type":"text","align":"center","baseline":"middle","fontSize":12.5},"encoding":{"x":{"datum":1545.89,"type":"quantitative","scale":{"domain":[1537,1557],"nice":false,"zero":false},"axis":null},"y":{"datum":-30.36,"type":"quantitative","scale":{"domain":[-68,-0.5],"nice":false,"zero":false},"axis":null},"text":{"value":"T 2"}}},
  {"mark":{"type":"text","align":"center","baseline":"middle","fontSize":12.5},"encoding":{"x":{"datum":1552.53,"type":"quantitative","scale":{"domain":[1537,1557],"nice":false,"zero":false},"axis":null},"y":{"datum":-32.83,"type":"quantitative","scale":{"domain":[-68,-0.5],"nice":false,"zero":false},"axis":null},"text":{"value":"T 3"}}},
  {"mark":{"type":"rect","fill":"#fff","stroke":"#444","strokeWidth":1},"encoding":{"x":{"datum":1538.7,"type":"quantitative","scale":{"domain":[1538.7,1539.92],"range":[153,234],"nice":false,"zero":false},"axis":null},"x2":{"datum":1539.92},"y":{"datum":-35,"type":"quantitative","scale":{"domain":[-35,-22.2],"range":[50,5],"nice":false,"zero":false},"axis":null},"y2":{"datum":-22.2}}},
  {"data":{"name":"di"},"mark":{"type":"line","strokeWidth":1,"interpolate":"monotone"},
   "encoding":{
    "x":{"field":"x","type":"quantitative","scale":{"domain":[1538.7,1539.92],"range":[153,234],"nice":false,"zero":false},"axis":{"orient":"bottom","offset":-103,"values":[1538.7,1539.1,1539.5,1539.9],"title":null,"labelExpr":"''+datum.value","labelFontSize":5.5,"labelFontWeight":"normal","labelColor":"#333","tickSize":2,"tickColor":"#666","labelPadding":1}},
    "y":{"field":"y","type":"quantitative","scale":{"domain":[-35,-22.2],"range":[50,5],"nice":false,"zero":false},"axis":{"orient":"left","offset":-153,"values":[-35,-31,-27,-23],"title":null,"labelExpr":"''+datum.value","labelFontSize":5.5,"labelFontWeight":"normal","labelColor":"#333","tickSize":2,"tickColor":"#666","labelPadding":2}},
    "color":{"field":"s","type":"nominal","scale":{"domain":["0°","10°","20°","30°","40°","50°","60°","70°","80°","90°"],"range":["#7030A0","#ED7D31","#A5A5A5","#FFC000","#5B9BD5","#70AD47","#264478","#9E480E","#636363","#997300"]},"legend":{"title":null,"orient":"none","legendX":258,"legendY":0}}}},
  {"mark":{"type":"text","align":"left","baseline":"middle","fontSize":8,"fontWeight":"bold"},"encoding":{"x":{"datum":1538.72,"type":"quantitative","scale":{"domain":[1538.7,1539.92],"range":[153,234],"nice":false,"zero":false},"axis":null},"y":{"datum":-23.62,"type":"quantitative","scale":{"domain":[-35,-22.2],"range":[50,5],"nice":false,"zero":false},"axis":null},"text":{"value":"T1"}}},
  {"mark":{"type":"text","align":"left","baseline":"middle","fontSize":5.5},"encoding":{"x":{"datum":1538.97,"type":"quantitative","scale":{"domain":[1538.7,1539.92],"range":[153,234],"nice":false,"zero":false},"axis":null},"y":{"datum":-23.28,"type":"quantitative","scale":{"domain":[-35,-22.2],"range":[50,5],"nice":false,"zero":false},"axis":null},"text":{"value":"0°"}}},
  {"mark":{"type":"rule","color":"#E82020","strokeWidth":1},"encoding":{"x":{"datum":1539.14,"type":"quantitative","scale":{"domain":[1538.7,1539.92],"range":[153,234],"nice":false,"zero":false},"axis":null},"x2":{"datum":1539.52},"y":{"datum":-23.28,"type":"quantitative","scale":{"domain":[-35,-22.2],"range":[50,5],"nice":false,"zero":false},"axis":null}}},
  {"mark":{"type":"text","align":"left","baseline":"middle","fontSize":5.5},"encoding":{"x":{"datum":1539.58,"type":"quantitative","scale":{"domain":[1538.7,1539.92],"range":[153,234],"nice":false,"zero":false},"axis":null},"y":{"datum":-23.28,"type":"quantitative","scale":{"domain":[-35,-22.2],"range":[50,5],"nice":false,"zero":false},"axis":null},"text":{"value":"90°"}}}
 ]
}
]
}
